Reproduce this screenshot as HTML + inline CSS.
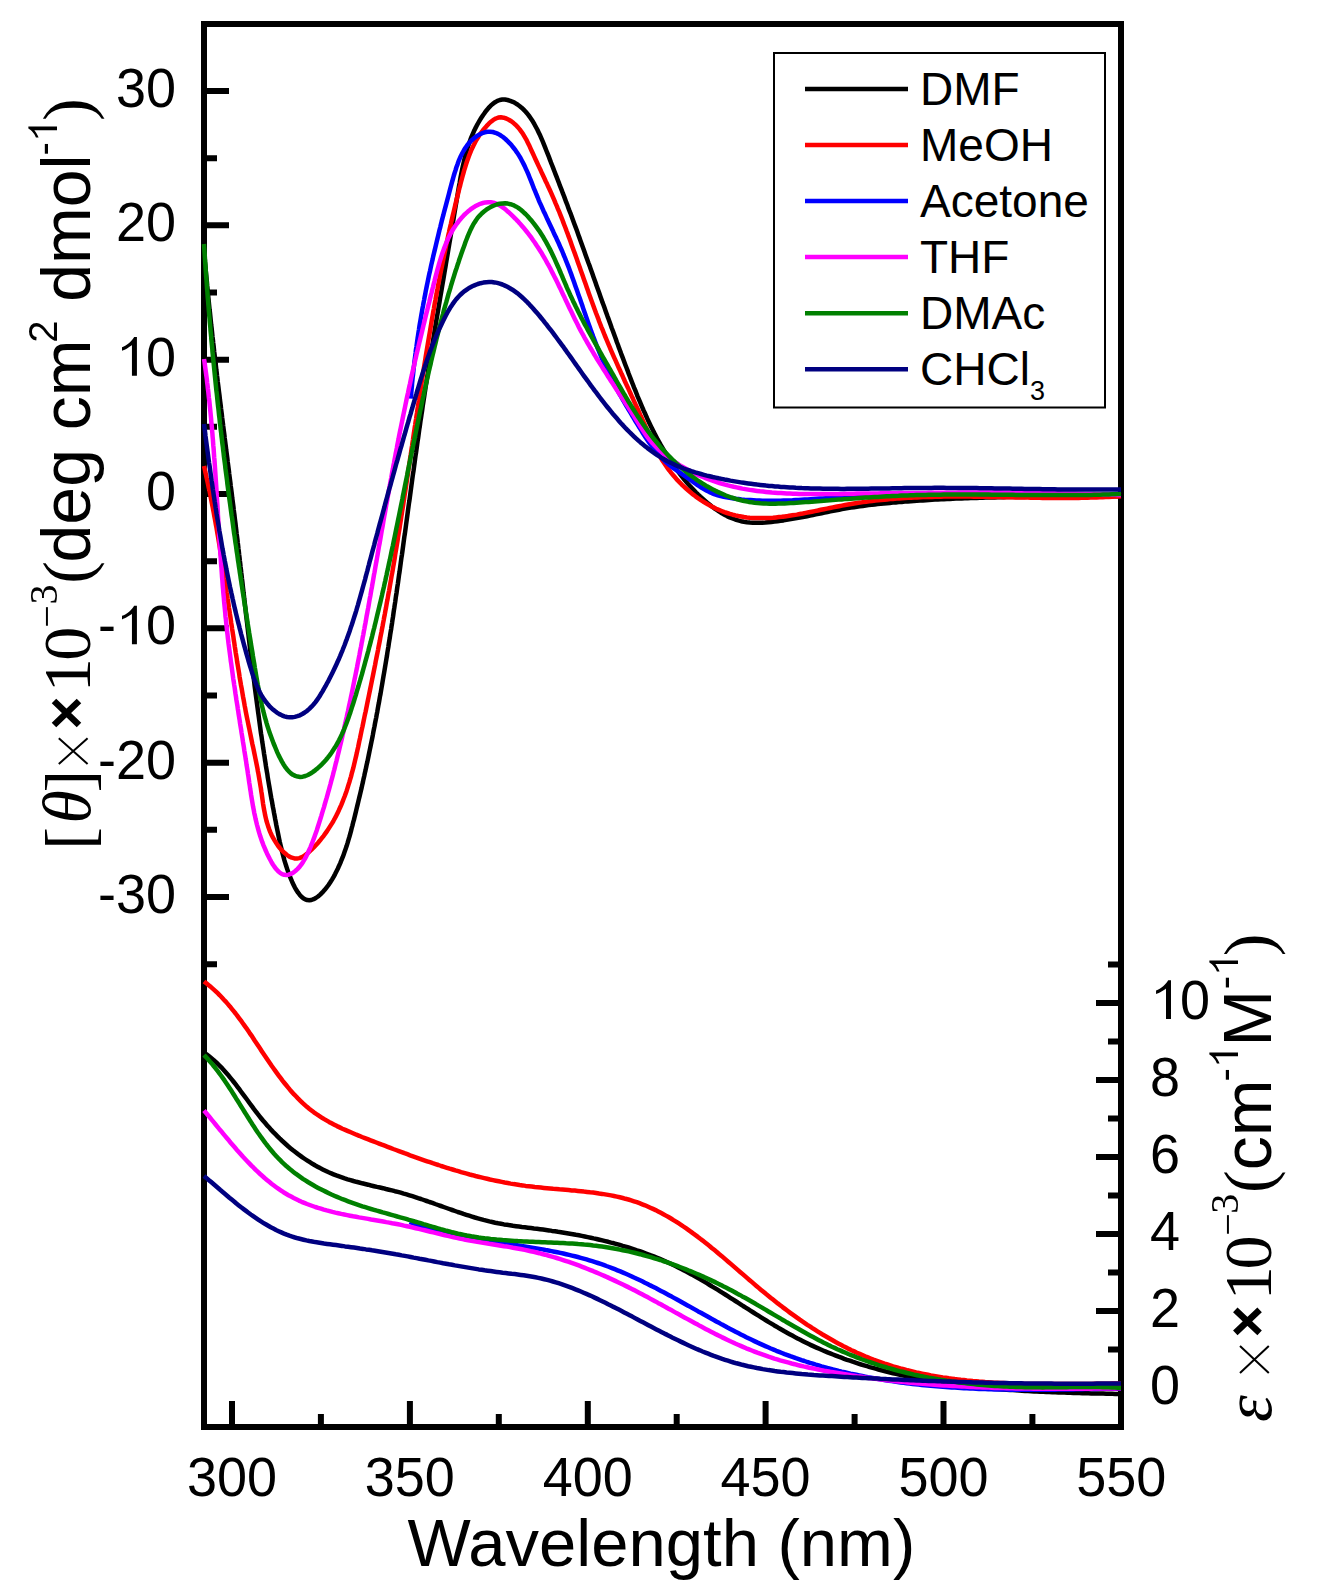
<!DOCTYPE html><html><head><meta charset="utf-8"><style>html,body{margin:0;padding:0;background:#fff;}svg{display:block;}</style></head><body>
<svg width="1318" height="1596" viewBox="0 0 1318 1596" font-family='"Liberation Sans", sans-serif'>
<rect x="0" y="0" width="1318" height="1596" fill="#fff"/>
<rect x="204" y="24" width="917" height="1403" fill="none" stroke="#000" stroke-width="6"/>
<path d="M232.0 1401 V1427 M320.9 1414 V1427 M409.9 1401 V1427 M498.8 1414 V1427 M587.8 1401 V1427 M676.7 1414 V1427 M765.6 1401 V1427 M854.6 1414 V1427 M943.5 1401 V1427 M1032.4 1414 V1427 M204 964.2 H217 M204 897.0 H229 M204 829.8 H217 M204 762.7 H229 M204 695.5 H217 M204 628.3 H229 M204 561.2 H217 M204 494.0 H229 M204 426.8 H217 M204 359.7 H229 M204 292.5 H217 M204 225.3 H229 M204 158.2 H217 M204 91.0 H229 M1121 1388.0 H1096 M1121 1349.5 H1108 M1121 1311.0 H1096 M1121 1272.5 H1108 M1121 1234.0 H1096 M1121 1195.5 H1108 M1121 1157.0 H1096 M1121 1118.5 H1108 M1121 1080.0 H1096 M1121 1041.5 H1108 M1121 1003.0 H1096 M1121 964.5 H1108" stroke="#000" stroke-width="6" fill="none"/>
<g font-size="54" fill="#000">
<g transform="translate(186.95 1496.00) scale(1 1.025)"><text x="0" y="0">300</text></g>
<g transform="translate(364.83 1496.00) scale(1 1.025)"><text x="0" y="0">350</text></g>
<g transform="translate(542.70 1496.00) scale(1 1.025)"><text x="0" y="0">400</text></g>
<g transform="translate(720.58 1496.00) scale(1 1.025)"><text x="0" y="0">450</text></g>
<g transform="translate(898.45 1496.00) scale(1 1.025)"><text x="0" y="0">500</text></g>
<g transform="translate(1076.33 1496.00) scale(1 1.025)"><text x="0" y="0">550</text></g>
<g transform="translate(97.95 912.99) scale(1 1.025)"><text x="0" y="0">-30</text></g>
<g transform="translate(97.95 778.66) scale(1 1.025)"><text x="0" y="0">-20</text></g>
<g transform="translate(97.95 644.33) scale(1 1.025)"><text x="0" y="0">- 0</text></g><path d="M131.94 644.33L136.92 644.33L136.92 605.68L134.13 605.68C133.07 607.68 131.23 609.79 129.12 611.63C127.01 613.48 124.37 615.06 122.00 615.85L122.00 619.44C123.58 618.89 125.69 617.83 127.80 616.59C129.65 615.51 131.10 614.54 131.94 613.74Z" fill="#000"/>
<g transform="translate(145.97 510.00) scale(1 1.025)"><text x="0" y="0">0</text></g>
<g transform="translate(115.94 375.67) scale(1 1.025)"><text x="0" y="0"> 0</text></g><path d="M131.94 375.67L136.92 375.67L136.92 337.02L134.13 337.02C133.07 339.02 131.23 341.13 129.12 342.97C127.01 344.82 124.37 346.40 122.00 347.19L122.00 350.78C123.58 350.23 125.69 349.17 127.80 347.93C129.65 346.85 131.10 345.88 131.94 345.08Z" fill="#000"/>
<g transform="translate(115.94 241.34) scale(1 1.025)"><text x="0" y="0">20</text></g>
<g transform="translate(115.94 107.01) scale(1 1.025)"><text x="0" y="0">30</text></g>
<g transform="translate(1150.00 1404.00) scale(1 1.025)"><text x="0" y="0">0</text></g>
<g transform="translate(1150.00 1327.00) scale(1 1.025)"><text x="0" y="0">2</text></g>
<g transform="translate(1150.00 1250.00) scale(1 1.025)"><text x="0" y="0">4</text></g>
<g transform="translate(1150.00 1173.00) scale(1 1.025)"><text x="0" y="0">6</text></g>
<g transform="translate(1150.00 1096.00) scale(1 1.025)"><text x="0" y="0">8</text></g>
<g transform="translate(1150.00 1019.00) scale(1 1.025)"><text x="0" y="0"> 0</text></g><path d="M1166.00 1019.00L1170.99 1019.00L1170.99 980.35L1168.19 980.35C1167.14 982.35 1165.29 984.46 1163.18 986.30C1161.07 988.15 1158.44 989.73 1156.06 990.52L1156.06 994.11C1157.65 993.56 1159.76 992.50 1161.87 991.26C1163.71 990.18 1165.16 989.21 1166.00 988.41Z" fill="#000"/>
</g>
<text x="407.6" y="1566" font-size="67">Wavelength (nm)</text>
<rect x="774" y="53" width="331" height="354.5" fill="none" stroke="#000" stroke-width="2"/>
<path d="M805 88.9 H908" stroke="#000000" stroke-width="4.5"/>
<text x="920" y="104.6" font-size="46">DMF</text>
<path d="M805 145.0 H908" stroke="#ff0000" stroke-width="4.5"/>
<text x="920" y="160.7" font-size="46">MeOH</text>
<path d="M805 201.0 H908" stroke="#0000ff" stroke-width="4.5"/>
<text x="920" y="216.7" font-size="46">Acetone</text>
<path d="M805 257.1 H908" stroke="#ff00ff" stroke-width="4.5"/>
<text x="920" y="272.8" font-size="46">THF</text>
<path d="M805 313.2 H908" stroke="#008000" stroke-width="4.5"/>
<text x="920" y="328.9" font-size="46">DMAc</text>
<path d="M805 369.3 H908" stroke="#000080" stroke-width="4.5"/>
<text x="920" y="385.0" font-size="46">CHCl<tspan font-size="27" dy="15">3</tspan></text>
<path d="M204.0 250.0L204.3 253.0L204.5 256.0L204.8 259.0L205.0 262.0L205.3 265.0L205.6 268.0L205.8 271.0L206.1 274.0L206.4 277.0L206.7 280.0L207.0 283.0L207.2 286.0L207.5 289.0L207.8 292.0L208.1 295.0L208.4 298.0L208.7 301.0L209.0 303.9L209.3 306.9L209.6 309.9L210.0 312.9L210.3 315.9L210.6 318.9L210.9 321.9L211.2 324.9L211.6 327.8L211.9 330.8L212.2 333.8L212.5 336.8L212.9 339.8L213.2 342.8L213.6 345.7L213.9 348.7L214.2 351.7L214.6 354.7L214.9 357.7L215.3 360.6L215.6 363.6L216.0 366.6L216.3 369.6L216.7 372.6L217.0 375.5L217.4 378.5L217.7 381.5L218.1 384.5L218.5 387.5L218.8 390.4L219.2 393.4L219.6 396.4L219.9 399.4L220.3 402.3L220.7 405.3L221.0 408.3L221.4 411.3L221.8 414.2L222.1 417.2L222.5 420.2L222.9 423.2L223.2 426.1L223.6 429.1L224.0 432.1L224.4 435.1L224.7 438.0L225.1 441.0L225.5 444.0L225.9 447.0L226.2 449.9L226.6 452.9L227.0 455.9L227.4 458.9L227.7 461.8L228.1 464.8L228.5 467.8L228.9 470.8L229.2 473.7L229.6 476.7L230.0 479.7L230.4 482.7L230.7 485.7L231.1 488.6L231.5 491.6L231.9 494.6L232.2 497.6L232.6 500.5L233.0 503.5L233.4 506.5L233.7 509.5L234.1 512.5L234.5 515.4L234.8 518.4L235.2 521.4L235.6 524.4L235.9 527.4L236.3 530.4L236.6 533.3L237.0 536.3L237.4 539.3L237.7 542.3L238.1 545.3L238.4 548.3L238.8 551.3L239.1 554.2L239.5 557.2L239.8 560.2L240.2 563.2L240.5 566.2L240.9 569.2L241.2 572.2L241.6 575.2L241.9 578.2L242.3 581.2L242.6 584.1L242.9 587.1L243.3 590.1L243.6 593.1L244.0 596.1L244.3 599.1L244.7 602.1L245.0 605.1L245.4 608.1L245.7 611.1L246.0 614.1L246.4 617.1L246.7 620.0L247.1 623.0L247.4 626.0L247.8 629.0L248.1 632.0L248.5 635.0L248.8 638.0L249.2 641.0L249.5 644.0L249.9 647.0L250.2 650.0L250.6 652.9L251.0 655.9L251.3 658.9L251.7 661.9L252.1 664.9L252.4 667.9L252.8 670.9L253.2 673.8L253.5 676.8L253.9 679.8L254.3 682.8L254.6 685.8L255.0 688.8L255.4 691.7L255.8 694.7L256.2 697.7L256.6 700.7L257.0 703.6L257.4 706.6L257.8 709.6L258.2 712.6L258.6 715.5L259.0 718.5L259.4 721.5L259.8 724.5L260.2 727.4L260.6 730.4L261.0 733.4L261.5 736.3L261.9 739.3L262.3 742.2L262.8 745.2L263.2 748.2L263.7 751.1L264.1 754.1L264.6 757.0L265.0 760.0L265.5 762.9L265.9 765.9L266.4 768.8L266.9 771.8L267.4 774.7L267.8 777.7L268.3 780.6L268.8 783.6L269.3 786.5L269.8 789.4L270.3 792.4L270.8 795.3L271.3 798.2L271.9 801.2L272.4 804.1L272.9 807.0L273.5 809.9L274.0 812.9L274.6 815.8L275.1 818.7L275.7 821.6L276.2 824.5L276.8 827.5L277.4 830.4L278.0 833.3L278.6 836.2L279.2 839.1L279.8 842.0L280.5 845.0L281.2 847.9L281.9 850.9L282.7 853.8L283.5 856.8L284.3 859.9L285.2 862.9L286.2 866.0L287.2 869.1L288.3 872.3L289.5 875.4L290.8 878.6L292.1 881.7L293.5 884.7L294.9 887.6L296.5 890.2L298.1 892.7L299.8 894.9L301.5 896.8L303.3 898.3L305.2 899.4L307.2 900.1L309.3 900.3L311.4 900.0L313.6 899.2L315.8 898.0L318.0 896.5L320.2 894.6L322.4 892.4L324.5 890.1L326.5 887.6L328.5 885.0L330.3 882.3L332.0 879.6L333.6 876.9L335.1 874.1L336.5 871.3L337.9 868.5L339.1 865.7L340.4 862.9L341.5 860.0L342.7 857.2L343.7 854.4L344.7 851.5L345.7 848.7L346.7 845.8L347.6 842.9L348.4 840.1L349.3 837.2L350.1 834.3L350.9 831.4L351.6 828.5L352.4 825.6L353.1 822.7L353.9 819.9L354.6 817.0L355.3 814.1L356.0 811.2L356.7 808.3L357.4 805.4L358.1 802.4L358.8 799.5L359.5 796.6L360.2 793.7L360.9 790.8L361.6 787.9L362.2 785.0L362.9 782.1L363.5 779.1L364.2 776.2L364.8 773.3L365.5 770.4L366.1 767.5L366.7 764.5L367.4 761.6L368.0 758.7L368.6 755.8L369.2 752.8L369.8 749.9L370.4 747.0L371.0 744.0L371.6 741.1L372.2 738.2L372.8 735.2L373.3 732.3L373.9 729.3L374.5 726.4L375.0 723.5L375.6 720.5L376.2 717.6L376.7 714.6L377.3 711.7L377.8 708.7L378.3 705.8L378.9 702.8L379.4 699.9L379.9 696.9L380.5 694.0L381.0 691.0L381.5 688.0L382.0 685.1L382.5 682.1L383.0 679.2L383.5 676.2L384.0 673.3L384.5 670.3L385.0 667.3L385.5 664.4L386.0 661.4L386.5 658.4L387.0 655.5L387.4 652.5L387.9 649.5L388.4 646.6L388.8 643.6L389.3 640.6L389.8 637.7L390.2 634.7L390.7 631.7L391.2 628.8L391.6 625.8L392.1 622.8L392.5 619.8L393.0 616.9L393.4 613.9L393.8 610.9L394.3 607.9L394.7 605.0L395.2 602.0L395.6 599.0L396.0 596.0L396.5 593.1L396.9 590.1L397.3 587.1L397.8 584.1L398.2 581.2L398.6 578.2L399.0 575.2L399.5 572.2L399.9 569.2L400.3 566.3L400.7 563.3L401.1 560.3L401.5 557.3L402.0 554.3L402.4 551.4L402.8 548.4L403.2 545.4L403.6 542.4L404.0 539.4L404.4 536.4L404.9 533.5L405.3 530.5L405.7 527.5L406.1 524.5L406.5 521.5L406.9 518.6L407.3 515.6L407.7 512.6L408.1 509.6L408.5 506.6L408.9 503.7L409.4 500.7L409.8 497.7L410.2 494.7L410.6 491.7L411.0 488.8L411.4 485.8L411.8 482.8L412.2 479.8L412.6 476.8L413.0 473.9L413.5 470.9L413.9 467.9L414.3 464.9L414.7 461.9L415.1 459.0L415.5 456.0L416.0 453.0L416.4 450.0L416.8 447.1L417.2 444.1L417.6 441.1L418.1 438.1L418.5 435.2L418.9 432.2L419.3 429.2L419.8 426.3L420.2 423.3L420.6 420.3L421.1 417.4L421.5 414.4L422.0 411.4L422.4 408.4L422.8 405.5L423.3 402.5L423.7 399.6L424.2 396.6L424.6 393.6L425.1 390.7L425.5 387.7L426.0 384.7L426.5 381.8L426.9 378.8L427.4 375.9L427.9 372.9L428.3 369.9L428.8 367.0L429.3 364.0L429.7 361.1L430.2 358.1L430.7 355.2L431.2 352.2L431.6 349.2L432.1 346.3L432.6 343.3L433.1 340.4L433.6 337.4L434.1 334.5L434.5 331.5L435.0 328.6L435.5 325.6L436.0 322.6L436.5 319.7L437.0 316.7L437.5 313.8L438.0 310.8L438.5 307.9L439.0 304.9L439.5 302.0L440.0 299.0L440.5 296.0L441.0 293.1L441.5 290.1L442.0 287.2L442.5 284.2L443.0 281.3L443.5 278.3L444.0 275.3L444.5 272.4L445.0 269.4L445.5 266.5L446.0 263.5L446.5 260.5L447.0 257.6L447.5 254.6L448.0 251.6L448.5 248.7L449.0 245.7L449.5 242.7L450.0 239.8L450.5 236.8L451.0 233.8L451.5 230.9L452.0 227.9L452.5 224.9L453.0 221.9L453.5 219.0L454.0 216.0L454.5 213.0L455.0 210.0L455.5 207.0L456.0 204.1L456.5 201.1L457.0 198.1L457.5 195.1L458.0 192.1L458.5 189.1L459.0 186.1L459.6 183.2L460.1 180.2L460.6 177.2L461.2 174.2L461.8 171.3L462.4 168.3L463.0 165.4L463.7 162.4L464.4 159.5L465.1 156.6L465.9 153.7L466.7 150.8L467.6 147.9L468.5 145.1L469.5 142.2L470.5 139.4L471.6 136.6L472.8 133.9L474.0 131.1L475.3 128.4L476.7 125.7L478.2 123.0L479.7 120.4L481.3 117.8L483.0 115.2L484.8 112.7L486.7 110.2L488.6 107.9L490.7 105.7L492.8 103.8L495.1 102.2L497.4 100.9L499.8 100.0L502.3 99.5L504.9 99.5L507.6 100.0L510.2 100.8L512.8 101.8L515.2 103.1L517.5 104.5L519.8 106.2L521.9 107.9L523.9 109.9L525.9 112.0L527.7 114.2L529.5 116.5L531.2 119.0L532.9 121.6L534.4 124.2L535.9 127.0L537.4 129.8L538.8 132.7L540.2 135.6L541.5 138.6L542.8 141.6L544.0 144.6L545.2 147.6L546.4 150.7L547.6 153.7L548.8 156.7L549.9 159.6L551.0 162.6L552.2 165.5L553.3 168.4L554.4 171.3L555.5 174.1L556.6 176.9L557.7 179.8L558.8 182.6L559.8 185.4L560.9 188.1L562.0 190.9L563.0 193.7L564.1 196.4L565.1 199.1L566.1 201.9L567.2 204.6L568.2 207.4L569.2 210.1L570.3 212.8L571.3 215.6L572.3 218.3L573.3 221.1L574.3 223.8L575.4 226.6L576.4 229.3L577.4 232.1L578.4 234.9L579.4 237.6L580.4 240.4L581.4 243.2L582.4 246.0L583.4 248.8L584.4 251.6L585.4 254.4L586.4 257.2L587.4 260.0L588.4 262.8L589.5 265.6L590.5 268.4L591.5 271.2L592.5 274.1L593.5 276.9L594.5 279.7L595.5 282.5L596.5 285.4L597.5 288.2L598.5 291.0L599.5 293.8L600.5 296.7L601.5 299.5L602.5 302.4L603.6 305.2L604.6 308.0L605.6 310.9L606.6 313.7L607.6 316.6L608.7 319.4L609.7 322.3L610.7 325.1L611.7 328.0L612.8 330.8L613.8 333.6L614.9 336.5L615.9 339.3L616.9 342.2L618.0 345.0L619.0 347.9L620.1 350.7L621.1 353.6L622.2 356.4L623.3 359.3L624.3 362.1L625.4 365.0L626.5 367.8L627.6 370.6L628.6 373.5L629.7 376.3L630.8 379.1L631.9 382.0L633.0 384.8L634.1 387.6L635.3 390.4L636.4 393.3L637.5 396.1L638.7 398.9L639.9 401.7L641.0 404.4L642.2 407.2L643.4 410.0L644.7 412.7L645.9 415.5L647.1 418.2L648.4 420.9L649.7 423.7L651.0 426.4L652.3 429.0L653.7 431.7L655.0 434.4L656.4 437.0L657.8 439.7L659.3 442.3L660.7 444.9L662.2 447.4L663.7 450.0L665.3 452.6L666.8 455.1L668.4 457.6L670.0 460.1L671.7 462.5L673.4 465.0L675.1 467.4L676.8 469.8L678.6 472.2L680.4 474.5L682.2 476.9L684.1 479.2L686.0 481.5L687.9 483.7L689.9 485.9L691.9 488.1L694.0 490.3L696.1 492.5L698.2 494.6L700.4 496.7L702.6 498.7L704.9 500.7L707.2 502.7L709.5 504.6L711.9 506.5L714.3 508.3L716.8 510.0L719.3 511.7L721.9 513.3L724.5 514.7L727.1 516.1L729.8 517.4L732.6 518.5L735.3 519.5L738.2 520.4L741.0 521.2L743.9 521.8L746.9 522.3L749.9 522.6L752.9 522.8L756.0 522.8L759.1 522.8L762.2 522.7L765.3 522.5L768.3 522.2L771.4 521.9L774.5 521.6L777.5 521.2L780.5 520.8L783.5 520.4L786.5 519.9L789.5 519.4L792.4 518.9L795.4 518.4L798.3 517.9L801.3 517.3L804.2 516.7L807.1 516.2L810.0 515.6L812.9 515.0L815.8 514.4L818.7 513.8L821.6 513.2L824.5 512.6L827.5 512.0L830.4 511.4L833.3 510.8L836.2 510.2L839.1 509.7L842.0 509.1L845.0 508.6L847.9 508.1L850.9 507.6L853.8 507.2L856.8 506.7L859.8 506.3L862.8 505.9L865.7 505.5L868.7 505.1L871.7 504.8L874.7 504.4L877.7 504.1L880.7 503.8L883.7 503.5L886.8 503.2L889.8 502.9L892.8 502.6L895.8 502.4L898.8 502.1L901.8 501.9L904.8 501.6L907.8 501.4L910.8 501.2L913.8 501.0L916.8 500.8L919.9 500.6L922.9 500.4L925.9 500.2L928.9 500.0L931.9 499.8L934.9 499.6L937.9 499.5L940.9 499.3L943.9 499.2L946.9 499.0L949.9 498.9L952.9 498.8L955.9 498.6L958.9 498.5L961.8 498.4L964.8 498.3L967.8 498.2L970.8 498.1L973.8 498.0L976.8 497.9L979.8 497.8L982.8 497.7L985.8 497.6L988.8 497.5L991.8 497.5L994.8 497.4L997.8 497.3L1000.8 497.3L1003.8 497.2L1006.8 497.1L1009.8 497.1L1012.8 497.0L1015.8 497.0L1018.8 496.9L1021.8 496.9L1024.8 496.9L1027.8 496.8L1030.8 496.8L1033.8 496.7L1036.9 496.7L1039.9 496.7L1042.9 496.7L1045.9 496.6L1048.9 496.6L1051.9 496.6L1054.9 496.5L1057.9 496.5L1060.9 496.5L1063.9 496.5L1066.9 496.5L1069.9 496.4L1073.0 496.4L1076.0 496.4L1079.0 496.4L1082.0 496.4L1085.0 496.4L1088.0 496.4L1091.0 496.3L1094.0 496.3L1097.0 496.3L1100.0 496.3L1103.0 496.3L1106.0 496.3L1109.0 496.3L1112.0 496.2L1115.0 496.2L1118.0 496.2L1121.0 496.2" fill="none" stroke="#000000" stroke-width="4.5" stroke-linejoin="round"/>
<path d="M204.0 1052.5L206.5 1054.3L208.8 1056.1L211.2 1058.0L213.5 1059.9L215.7 1061.9L217.9 1064.0L220.0 1066.1L222.1 1068.2L224.1 1070.4L226.1 1072.7L228.1 1074.9L230.0 1077.3L231.9 1079.6L233.8 1082.0L235.7 1084.4L237.5 1086.8L239.3 1089.2L241.1 1091.7L242.9 1094.1L244.8 1096.6L246.6 1099.0L248.4 1101.5L250.2 1104.0L252.0 1106.4L253.8 1108.9L255.7 1111.3L257.5 1113.7L259.4 1116.1L261.3 1118.5L263.2 1120.8L265.2 1123.1L267.2 1125.4L269.2 1127.6L271.2 1129.9L273.3 1132.1L275.4 1134.2L277.5 1136.3L279.6 1138.4L281.8 1140.5L284.0 1142.5L286.2 1144.5L288.4 1146.5L290.7 1148.4L293.0 1150.3L295.3 1152.1L297.7 1153.9L300.1 1155.6L302.5 1157.4L304.9 1159.0L307.4 1160.6L309.9 1162.2L312.4 1163.8L314.9 1165.3L317.5 1166.7L320.1 1168.1L322.7 1169.4L325.4 1170.7L328.1 1172.0L330.8 1173.2L333.5 1174.3L336.3 1175.4L339.1 1176.4L341.9 1177.4L344.7 1178.4L347.6 1179.3L350.5 1180.1L353.4 1181.0L356.3 1181.8L359.2 1182.5L362.2 1183.3L365.1 1184.0L368.1 1184.7L371.1 1185.5L374.0 1186.2L377.0 1186.9L380.0 1187.5L383.0 1188.2L386.0 1189.0L388.9 1189.7L391.9 1190.4L394.9 1191.2L397.8 1191.9L400.7 1192.7L403.7 1193.6L406.6 1194.4L409.5 1195.3L412.4 1196.2L415.2 1197.1L418.1 1198.1L421.0 1199.0L423.8 1200.0L426.7 1201.0L429.5 1202.0L432.4 1202.9L435.2 1204.0L438.0 1205.0L440.9 1206.0L443.7 1207.0L446.5 1208.0L449.3 1209.0L452.2 1210.0L455.0 1211.0L457.8 1212.0L460.7 1212.9L463.5 1213.9L466.3 1214.8L469.2 1215.7L472.0 1216.6L474.9 1217.5L477.8 1218.3L480.6 1219.1L483.5 1219.9L486.4 1220.6L489.3 1221.4L492.2 1222.0L495.2 1222.7L498.1 1223.3L501.0 1223.8L504.0 1224.4L507.0 1224.8L510.0 1225.3L512.9 1225.8L515.9 1226.2L518.9 1226.6L521.9 1227.0L524.9 1227.3L527.9 1227.7L531.0 1228.1L534.0 1228.5L537.0 1228.8L540.0 1229.2L543.0 1229.6L546.0 1230.0L549.0 1230.4L552.0 1230.9L555.0 1231.3L558.0 1231.8L561.0 1232.2L564.0 1232.7L567.0 1233.2L569.9 1233.7L572.9 1234.2L575.9 1234.8L578.9 1235.3L581.8 1235.9L584.8 1236.5L587.7 1237.1L590.7 1237.7L593.6 1238.4L596.5 1239.0L599.5 1239.7L602.4 1240.4L605.3 1241.1L608.2 1241.8L611.1 1242.6L614.0 1243.3L616.9 1244.1L619.8 1244.9L622.7 1245.8L625.5 1246.6L628.4 1247.5L631.2 1248.4L634.1 1249.3L636.9 1250.3L639.7 1251.2L642.5 1252.2L645.4 1253.3L648.1 1254.3L650.9 1255.4L653.7 1256.4L656.5 1257.6L659.2 1258.7L662.0 1259.9L664.7 1261.1L667.4 1262.3L670.2 1263.5L672.9 1264.8L675.5 1266.1L678.2 1267.4L680.9 1268.8L683.6 1270.2L686.2 1271.6L688.9 1273.0L691.5 1274.4L694.1 1275.9L696.7 1277.4L699.4 1278.9L702.0 1280.4L704.6 1281.9L707.2 1283.4L709.7 1285.0L712.3 1286.6L714.9 1288.1L717.5 1289.7L720.1 1291.3L722.6 1292.9L725.2 1294.5L727.8 1296.2L730.3 1297.8L732.9 1299.4L735.4 1301.0L738.0 1302.7L740.6 1304.3L743.1 1306.0L745.7 1307.6L748.2 1309.2L750.8 1310.8L753.4 1312.5L755.9 1314.1L758.5 1315.7L761.1 1317.3L763.6 1318.9L766.2 1320.5L768.8 1322.1L771.4 1323.6L774.0 1325.2L776.6 1326.7L779.2 1328.3L781.8 1329.8L784.4 1331.3L787.0 1332.7L789.7 1334.2L792.3 1335.6L795.0 1337.1L797.6 1338.5L800.3 1339.8L803.0 1341.2L805.6 1342.5L808.3 1343.8L811.0 1345.1L813.8 1346.4L816.5 1347.6L819.2 1348.8L822.0 1350.0L824.7 1351.2L827.5 1352.3L830.2 1353.4L833.0 1354.5L835.8 1355.6L838.6 1356.7L841.4 1357.7L844.2 1358.8L847.0 1359.8L849.9 1360.7L852.7 1361.7L855.5 1362.6L858.4 1363.6L861.2 1364.5L864.1 1365.3L867.0 1366.2L869.8 1367.1L872.7 1367.9L875.6 1368.7L878.5 1369.5L881.4 1370.3L884.3 1371.0L887.2 1371.8L890.1 1372.5L893.0 1373.2L896.0 1373.9L898.9 1374.6L901.8 1375.2L904.8 1375.9L907.7 1376.5L910.7 1377.1L913.6 1377.7L916.6 1378.3L919.6 1378.8L922.5 1379.4L925.5 1379.9L928.5 1380.4L931.5 1380.9L934.4 1381.4L937.4 1381.9L940.4 1382.4L943.4 1382.8L946.4 1383.3L949.4 1383.7L952.4 1384.1L955.4 1384.5L958.4 1384.9L961.5 1385.3L964.5 1385.7L967.5 1386.0L970.5 1386.4L973.5 1386.7L976.5 1387.0L979.6 1387.3L982.6 1387.6L985.6 1387.9L988.6 1388.2L991.7 1388.5L994.7 1388.7L997.7 1389.0L1000.8 1389.2L1003.8 1389.5L1006.8 1389.7L1009.9 1389.9L1012.9 1390.1L1015.9 1390.3L1019.0 1390.5L1022.0 1390.7L1025.0 1390.9L1028.0 1391.0L1031.1 1391.2L1034.1 1391.4L1037.1 1391.5L1040.2 1391.7L1043.2 1391.8L1046.2 1391.9L1049.2 1392.1L1052.3 1392.2L1055.3 1392.3L1058.3 1392.4L1061.3 1392.5L1064.3 1392.6L1067.3 1392.7L1070.3 1392.8L1073.3 1392.9L1076.4 1393.0L1079.4 1393.1L1082.3 1393.2L1085.3 1393.2L1088.3 1393.3L1091.3 1393.4L1094.3 1393.4L1097.3 1393.5L1100.3 1393.6L1103.2 1393.6L1106.2 1393.7L1109.2 1393.8L1112.1 1393.8L1115.1 1393.9L1118.0 1393.9L1121.0 1394.0" fill="none" stroke="#000000" stroke-width="4.5" stroke-linejoin="round"/>
<path d="M204.0 466.0L204.7 468.9L205.3 471.9L206.0 474.8L206.6 477.7L207.3 480.7L207.9 483.6L208.5 486.6L209.2 489.5L209.8 492.4L210.4 495.4L210.9 498.3L211.5 501.3L212.1 504.2L212.7 507.2L213.2 510.1L213.8 513.1L214.3 516.0L214.9 519.0L215.4 521.9L215.9 524.9L216.5 527.9L217.0 530.8L217.5 533.8L218.0 536.7L218.5 539.7L219.0 542.7L219.5 545.6L220.0 548.6L220.4 551.6L220.9 554.5L221.4 557.5L221.9 560.5L222.3 563.4L222.8 566.4L223.2 569.4L223.7 572.3L224.2 575.3L224.6 578.3L225.1 581.3L225.5 584.2L226.0 587.2L226.4 590.2L226.8 593.1L227.3 596.1L227.7 599.1L228.2 602.1L228.6 605.0L229.0 608.0L229.5 611.0L229.9 613.9L230.4 616.9L230.8 619.9L231.2 622.9L231.7 625.8L232.1 628.8L232.6 631.8L233.0 634.7L233.5 637.7L233.9 640.7L234.4 643.7L234.8 646.6L235.3 649.6L235.7 652.6L236.2 655.5L236.7 658.5L237.1 661.5L237.6 664.4L238.1 667.4L238.6 670.4L239.1 673.3L239.5 676.3L240.0 679.3L240.5 682.2L241.0 685.2L241.6 688.1L242.1 691.1L242.6 694.1L243.1 697.0L243.7 700.0L244.2 702.9L244.7 705.9L245.3 708.8L245.8 711.8L246.4 714.7L247.0 717.7L247.6 720.6L248.2 723.6L248.8 726.5L249.4 729.4L250.0 732.4L250.6 735.3L251.2 738.3L251.8 741.2L252.4 744.2L253.1 747.1L253.7 750.0L254.3 753.0L254.9 755.9L255.5 758.9L256.1 761.8L256.7 764.8L257.3 767.7L257.8 770.7L258.4 773.6L258.9 776.6L259.4 779.5L259.9 782.5L260.4 785.5L260.9 788.4L261.3 791.4L261.8 794.4L262.2 797.4L262.6 800.3L263.0 803.3L263.5 806.3L264.0 809.3L264.6 812.2L265.1 815.1L265.8 818.1L266.5 821.0L267.4 823.9L268.3 826.7L269.3 829.6L270.4 832.4L271.7 835.2L273.1 837.9L274.7 840.6L276.4 843.3L278.2 846.0L280.2 848.5L282.4 850.9L284.7 853.1L287.0 855.0L289.4 856.6L291.9 857.7L294.4 858.4L296.9 858.5L299.4 858.1L301.9 857.1L304.4 855.7L306.8 853.9L309.2 851.8L311.5 849.7L313.7 847.5L315.8 845.2L317.9 842.9L319.9 840.6L321.8 838.2L323.7 835.8L325.4 833.4L327.2 830.9L328.8 828.4L330.4 825.9L332.0 823.4L333.5 820.8L334.9 818.2L336.3 815.6L337.6 812.9L338.9 810.2L340.1 807.5L341.3 804.8L342.4 802.1L343.5 799.3L344.6 796.5L345.6 793.7L346.6 790.9L347.5 788.1L348.4 785.2L349.3 782.4L350.1 779.5L351.0 776.6L351.7 773.7L352.5 770.8L353.3 767.9L354.0 764.9L354.7 762.0L355.4 759.0L356.1 756.1L356.8 753.1L357.4 750.2L358.1 747.2L358.7 744.2L359.3 741.3L360.0 738.3L360.6 735.3L361.2 732.4L361.8 729.4L362.5 726.5L363.1 723.5L363.7 720.5L364.3 717.6L364.9 714.6L365.6 711.7L366.2 708.7L366.8 705.7L367.4 702.8L368.0 699.8L368.6 696.9L369.2 693.9L369.8 691.0L370.4 688.0L371.0 685.1L371.6 682.1L372.2 679.1L372.8 676.2L373.4 673.2L374.0 670.3L374.6 667.3L375.2 664.4L375.7 661.4L376.3 658.5L376.9 655.5L377.5 652.6L378.1 649.6L378.6 646.7L379.2 643.7L379.8 640.8L380.3 637.8L380.9 634.9L381.5 631.9L382.0 629.0L382.6 626.0L383.1 623.1L383.7 620.1L384.2 617.2L384.8 614.2L385.3 611.3L385.9 608.3L386.4 605.4L386.9 602.4L387.5 599.5L388.0 596.5L388.5 593.6L389.1 590.6L389.6 587.7L390.1 584.7L390.6 581.8L391.1 578.8L391.6 575.9L392.2 572.9L392.7 570.0L393.2 567.0L393.7 564.1L394.2 561.1L394.7 558.2L395.1 555.2L395.6 552.2L396.1 549.3L396.6 546.3L397.1 543.4L397.6 540.4L398.0 537.5L398.5 534.5L399.0 531.5L399.5 528.6L399.9 525.6L400.4 522.7L400.9 519.7L401.3 516.7L401.8 513.8L402.2 510.8L402.7 507.8L403.2 504.9L403.6 501.9L404.1 498.9L404.5 496.0L405.0 493.0L405.4 490.1L405.9 487.1L406.3 484.1L406.8 481.2L407.2 478.2L407.7 475.2L408.1 472.3L408.5 469.3L409.0 466.3L409.4 463.4L409.9 460.4L410.3 457.4L410.8 454.4L411.2 451.5L411.6 448.5L412.1 445.5L412.5 442.6L413.0 439.6L413.4 436.6L413.8 433.7L414.3 430.7L414.7 427.7L415.2 424.8L415.6 421.8L416.1 418.8L416.5 415.9L417.0 412.9L417.4 409.9L417.9 406.9L418.3 404.0L418.8 401.0L419.2 398.0L419.7 395.1L420.1 392.1L420.6 389.1L421.0 386.2L421.5 383.2L422.0 380.2L422.4 377.3L422.9 374.3L423.4 371.3L423.8 368.4L424.3 365.4L424.8 362.4L425.3 359.5L425.7 356.5L426.2 353.5L426.7 350.6L427.2 347.6L427.7 344.6L428.2 341.7L428.7 338.7L429.2 335.7L429.7 332.8L430.2 329.8L430.7 326.8L431.2 323.9L431.7 320.9L432.2 318.0L432.7 315.0L433.2 312.0L433.8 309.1L434.3 306.1L434.8 303.2L435.4 300.2L435.9 297.2L436.5 294.3L437.0 291.3L437.6 288.4L438.1 285.4L438.7 282.4L439.3 279.5L439.8 276.5L440.4 273.6L441.0 270.6L441.6 267.7L442.2 264.7L442.8 261.8L443.4 258.8L444.0 255.9L444.6 252.9L445.2 250.0L445.8 247.0L446.4 244.1L447.1 241.1L447.7 238.2L448.3 235.2L449.0 232.3L449.6 229.3L450.3 226.4L451.0 223.4L451.6 220.5L452.3 217.6L453.0 214.6L453.7 211.7L454.4 208.7L455.1 205.8L455.8 202.9L456.5 199.9L457.2 197.0L458.0 194.1L458.7 191.1L459.4 188.2L460.2 185.3L460.9 182.3L461.7 179.4L462.5 176.5L463.3 173.6L464.1 170.7L465.0 167.8L465.9 164.9L466.8 162.0L467.8 159.2L468.8 156.4L469.9 153.7L471.0 150.9L472.2 148.2L473.5 145.5L474.8 142.9L476.2 140.3L477.8 137.8L479.3 135.3L481.0 132.9L482.8 130.5L484.7 128.2L486.7 125.9L488.8 123.7L491.0 121.7L493.3 119.9L495.8 118.5L498.3 117.6L500.9 117.3L503.6 117.7L506.2 118.5L508.8 119.8L511.3 121.3L513.6 123.1L515.8 125.0L517.8 127.1L519.7 129.4L521.5 131.8L523.2 134.3L524.7 136.9L526.3 139.6L527.7 142.4L529.1 145.2L530.4 148.1L531.7 151.0L533.0 153.8L534.3 156.7L535.6 159.5L536.9 162.3L538.2 165.1L539.5 167.9L540.8 170.6L542.0 173.3L543.3 176.0L544.6 178.8L545.8 181.5L547.1 184.1L548.3 186.8L549.6 189.5L550.8 192.2L552.0 194.9L553.2 197.7L554.4 200.4L555.5 203.1L556.7 205.8L557.8 208.6L559.0 211.3L560.1 214.1L561.2 216.9L562.3 219.6L563.3 222.4L564.4 225.2L565.5 228.0L566.5 230.8L567.6 233.6L568.6 236.4L569.7 239.2L570.7 242.1L571.7 244.9L572.7 247.7L573.7 250.5L574.8 253.4L575.8 256.2L576.8 259.0L577.8 261.9L578.8 264.7L579.8 267.6L580.8 270.4L581.8 273.2L582.8 276.1L583.8 278.9L584.8 281.8L585.8 284.6L586.8 287.5L587.8 290.3L588.8 293.2L589.8 296.0L590.8 298.8L591.9 301.7L592.9 304.5L593.9 307.3L595.0 310.2L596.0 313.0L597.1 315.8L598.2 318.6L599.2 321.5L600.3 324.3L601.4 327.1L602.6 329.9L603.7 332.7L604.8 335.5L606.0 338.3L607.1 341.0L608.3 343.8L609.5 346.6L610.6 349.3L611.8 352.1L613.0 354.9L614.2 357.6L615.5 360.4L616.7 363.1L617.9 365.9L619.1 368.6L620.4 371.3L621.6 374.1L622.9 376.8L624.1 379.5L625.3 382.3L626.6 385.0L627.9 387.7L629.1 390.4L630.4 393.2L631.6 395.9L632.9 398.6L634.1 401.3L635.4 404.1L636.6 406.8L637.9 409.5L639.1 412.2L640.3 414.9L641.6 417.6L642.8 420.4L644.0 423.1L645.3 425.8L646.5 428.5L647.7 431.3L648.9 434.0L650.1 436.7L651.3 439.4L652.6 442.1L653.9 444.8L655.2 447.5L656.5 450.1L657.9 452.8L659.4 455.4L660.9 458.0L662.4 460.6L664.1 463.1L665.8 465.6L667.5 468.1L669.4 470.5L671.2 472.9L673.2 475.3L675.2 477.6L677.2 479.9L679.4 482.1L681.5 484.3L683.7 486.4L686.0 488.5L688.3 490.5L690.7 492.5L693.0 494.4L695.5 496.3L698.0 498.1L700.5 499.8L703.0 501.5L705.6 503.0L708.2 504.6L710.8 506.0L713.5 507.4L716.2 508.7L718.9 509.9L721.6 511.0L724.4 512.1L727.1 513.0L729.9 513.9L732.7 514.7L735.5 515.4L738.3 516.0L741.2 516.5L744.0 517.0L746.9 517.4L749.7 517.7L752.6 517.9L755.5 518.0L758.4 518.1L761.3 518.1L764.2 518.1L767.2 518.0L770.1 517.9L773.0 517.7L776.0 517.4L778.9 517.1L781.9 516.8L784.9 516.4L787.8 516.0L790.8 515.5L793.8 515.1L796.8 514.6L799.8 514.0L802.8 513.5L805.8 512.9L808.8 512.3L811.8 511.7L814.8 511.1L817.8 510.5L820.8 509.8L823.8 509.2L826.9 508.6L829.9 508.0L832.9 507.4L835.9 506.8L838.9 506.2L842.0 505.6L845.0 505.0L848.0 504.5L851.0 504.0L854.0 503.5L857.0 503.0L860.0 502.6L863.0 502.1L866.1 501.7L869.1 501.3L872.1 501.0L875.1 500.6L878.1 500.3L881.1 500.0L884.1 499.7L887.1 499.4L890.1 499.1L893.1 498.9L896.1 498.6L899.1 498.4L902.1 498.2L905.1 498.0L908.0 497.8L911.0 497.7L914.0 497.5L917.0 497.4L920.0 497.2L923.0 497.1L926.0 497.0L929.0 496.9L932.0 496.9L935.0 496.8L938.0 496.7L940.9 496.7L943.9 496.6L946.9 496.6L949.9 496.6L952.9 496.6L955.9 496.6L958.9 496.6L961.9 496.6L964.8 496.6L967.8 496.6L970.8 496.6L973.8 496.7L976.8 496.7L979.8 496.7L982.8 496.8L985.8 496.8L988.7 496.9L991.7 496.9L994.7 497.0L997.7 497.0L1000.7 497.1L1003.7 497.2L1006.7 497.2L1009.7 497.3L1012.7 497.3L1015.6 497.4L1018.6 497.5L1021.6 497.5L1024.6 497.6L1027.6 497.6L1030.6 497.7L1033.6 497.7L1036.6 497.8L1039.6 497.8L1042.6 497.9L1045.6 497.9L1048.6 497.9L1051.6 498.0L1054.6 498.0L1057.6 498.0L1060.6 498.0L1063.6 498.0L1066.6 498.0L1069.6 498.0L1072.7 498.0L1075.7 497.9L1078.7 497.9L1081.7 497.8L1084.7 497.8L1087.7 497.7L1090.7 497.6L1093.8 497.5L1096.8 497.4L1099.8 497.3L1102.8 497.2L1105.9 497.1L1108.9 496.9L1111.9 496.7L1114.9 496.6L1118.0 496.4L1121.0 496.2" fill="none" stroke="#ff0000" stroke-width="4.5" stroke-linejoin="round"/>
<path d="M204.0 981.4L206.4 983.3L208.7 985.2L211.0 987.1L213.3 989.1L215.5 991.1L217.7 993.2L219.8 995.3L221.9 997.5L223.9 999.7L226.0 1001.9L227.9 1004.1L229.9 1006.4L231.8 1008.8L233.7 1011.1L235.6 1013.5L237.4 1015.9L239.2 1018.3L241.0 1020.7L242.8 1023.2L244.5 1025.6L246.3 1028.1L248.0 1030.6L249.7 1033.1L251.5 1035.6L253.2 1038.2L254.8 1040.7L256.5 1043.2L258.2 1045.8L259.9 1048.3L261.6 1050.9L263.3 1053.4L265.0 1055.9L266.7 1058.5L268.4 1061.0L270.1 1063.5L271.8 1066.0L273.6 1068.5L275.3 1070.9L277.1 1073.4L278.9 1075.8L280.7 1078.2L282.5 1080.6L284.4 1083.0L286.3 1085.3L288.2 1087.6L290.1 1089.9L292.1 1092.2L294.1 1094.4L296.2 1096.5L298.2 1098.7L300.4 1100.8L302.5 1102.8L304.7 1104.8L306.9 1106.8L309.2 1108.7L311.5 1110.5L313.9 1112.3L316.3 1114.0L318.8 1115.7L321.3 1117.3L323.8 1118.9L326.4 1120.4L329.0 1121.9L331.6 1123.3L334.3 1124.7L337.0 1126.1L339.7 1127.4L342.4 1128.7L345.2 1129.9L348.0 1131.1L350.8 1132.3L353.6 1133.5L356.4 1134.7L359.2 1135.8L362.0 1137.0L364.9 1138.1L367.7 1139.2L370.6 1140.3L373.4 1141.4L376.3 1142.5L379.1 1143.6L381.9 1144.7L384.7 1145.7L387.6 1146.8L390.4 1147.9L393.2 1149.0L396.0 1150.0L398.9 1151.1L401.7 1152.1L404.5 1153.2L407.3 1154.2L410.1 1155.3L413.0 1156.3L415.8 1157.3L418.6 1158.3L421.4 1159.3L424.2 1160.3L427.1 1161.3L429.9 1162.2L432.7 1163.2L435.5 1164.1L438.4 1165.0L441.2 1166.0L444.0 1166.9L446.9 1167.8L449.7 1168.7L452.6 1169.5L455.4 1170.4L458.3 1171.2L461.1 1172.1L464.0 1172.9L466.8 1173.7L469.7 1174.5L472.6 1175.2L475.5 1176.0L478.4 1176.7L481.3 1177.4L484.2 1178.1L487.1 1178.8L490.0 1179.5L492.9 1180.1L495.9 1180.7L498.8 1181.3L501.7 1181.9L504.7 1182.5L507.7 1183.0L510.6 1183.6L513.6 1184.1L516.6 1184.5L519.6 1185.0L522.6 1185.4L525.6 1185.9L528.7 1186.2L531.7 1186.6L534.8 1187.0L537.8 1187.3L540.9 1187.6L543.9 1187.9L547.0 1188.2L550.1 1188.5L553.2 1188.8L556.3 1189.0L559.4 1189.3L562.4 1189.5L565.5 1189.8L568.6 1190.1L571.7 1190.4L574.8 1190.6L577.8 1190.9L580.9 1191.2L584.0 1191.6L587.0 1191.9L590.1 1192.3L593.1 1192.6L596.1 1193.0L599.1 1193.5L602.1 1193.9L605.1 1194.4L608.1 1194.9L611.0 1195.4L614.0 1196.0L616.9 1196.6L619.8 1197.3L622.7 1198.0L625.5 1198.8L628.4 1199.5L631.2 1200.4L634.0 1201.3L636.8 1202.2L639.5 1203.2L642.3 1204.3L645.0 1205.3L647.7 1206.5L650.3 1207.7L653.0 1208.9L655.6 1210.1L658.2 1211.4L660.8 1212.8L663.4 1214.2L665.9 1215.6L668.5 1217.0L671.0 1218.5L673.5 1220.1L676.0 1221.6L678.5 1223.2L681.0 1224.8L683.4 1226.5L685.9 1228.2L688.3 1229.9L690.7 1231.6L693.1 1233.4L695.5 1235.1L697.9 1236.9L700.3 1238.8L702.7 1240.6L705.1 1242.5L707.4 1244.3L709.8 1246.2L712.1 1248.2L714.5 1250.1L716.8 1252.0L719.1 1254.0L721.5 1255.9L723.8 1257.9L726.1 1259.9L728.5 1261.9L730.8 1263.9L733.1 1265.9L735.4 1267.9L737.7 1269.9L740.1 1271.9L742.4 1273.9L744.7 1275.9L747.0 1277.9L749.4 1279.9L751.7 1281.9L754.0 1283.9L756.4 1285.9L758.7 1287.9L761.1 1289.9L763.4 1291.8L765.8 1293.8L768.2 1295.7L770.6 1297.7L773.0 1299.6L775.4 1301.5L777.8 1303.4L780.2 1305.2L782.6 1307.1L785.0 1308.9L787.5 1310.8L789.9 1312.6L792.4 1314.4L794.9 1316.2L797.3 1317.9L799.8 1319.7L802.3 1321.4L804.8 1323.1L807.3 1324.8L809.9 1326.4L812.4 1328.1L814.9 1329.7L817.5 1331.3L820.0 1332.9L822.6 1334.5L825.2 1336.0L827.8 1337.5L830.4 1339.0L833.0 1340.5L835.6 1342.0L838.2 1343.4L840.9 1344.8L843.5 1346.2L846.2 1347.5L848.8 1348.9L851.5 1350.2L854.2 1351.4L856.9 1352.7L859.6 1353.9L862.4 1355.1L865.1 1356.3L867.9 1357.4L870.6 1358.5L873.4 1359.6L876.2 1360.6L879.0 1361.6L881.8 1362.6L884.6 1363.6L887.4 1364.5L890.3 1365.4L893.1 1366.3L896.0 1367.1L898.8 1368.0L901.7 1368.8L904.6 1369.5L907.5 1370.3L910.4 1371.0L913.3 1371.7L916.2 1372.4L919.1 1373.0L922.1 1373.6L925.0 1374.2L928.0 1374.8L930.9 1375.4L933.9 1375.9L936.9 1376.4L939.8 1376.9L942.8 1377.4L945.8 1377.8L948.8 1378.3L951.8 1378.7L954.8 1379.1L957.8 1379.4L960.8 1379.8L963.9 1380.1L966.9 1380.5L969.9 1380.8L972.9 1381.1L976.0 1381.3L979.0 1381.6L982.1 1381.8L985.1 1382.1L988.2 1382.3L991.2 1382.5L994.2 1382.7L997.3 1382.8L1000.4 1383.0L1003.4 1383.1L1006.5 1383.3L1009.5 1383.4L1012.6 1383.5L1015.6 1383.6L1018.7 1383.7L1021.8 1383.8L1024.8 1383.9L1027.9 1383.9L1030.9 1384.0L1034.0 1384.0L1037.0 1384.1L1040.1 1384.1L1043.1 1384.1L1046.2 1384.1L1049.2 1384.1L1052.3 1384.1L1055.3 1384.1L1058.3 1384.1L1061.4 1384.1L1064.4 1384.1L1067.4 1384.1L1070.5 1384.1L1073.5 1384.0L1076.5 1384.0L1079.5 1384.0L1082.5 1384.0L1085.5 1383.9L1088.5 1383.9L1091.5 1383.9L1094.5 1383.8L1097.4 1383.8L1100.4 1383.8L1103.4 1383.7L1106.3 1383.7L1109.3 1383.7L1112.2 1383.6L1115.1 1383.6L1118.1 1383.6L1121.0 1383.6" fill="none" stroke="#ff0000" stroke-width="4.5" stroke-linejoin="round"/>
<path d="M410.8 398.6L411.1 395.5L411.3 392.4L411.6 389.3L411.9 386.3L412.1 383.2L412.4 380.2L412.7 377.1L413.1 374.1L413.4 371.0L413.7 368.0L414.1 365.0L414.4 362.0L414.8 359.0L415.2 356.0L415.6 353.0L415.9 350.0L416.4 347.1L416.8 344.1L417.2 341.1L417.6 338.2L418.1 335.2L418.5 332.3L419.0 329.3L419.4 326.4L419.9 323.5L420.4 320.5L420.9 317.6L421.4 314.7L421.9 311.8L422.4 308.8L423.0 305.9L423.5 303.0L424.1 300.1L424.6 297.2L425.2 294.3L425.7 291.4L426.3 288.5L426.9 285.5L427.5 282.6L428.1 279.7L428.7 276.8L429.3 273.9L430.0 271.0L430.6 268.1L431.2 265.2L431.9 262.3L432.6 259.4L433.2 256.4L433.9 253.5L434.6 250.6L435.3 247.7L436.0 244.7L436.7 241.8L437.4 238.9L438.1 235.9L438.8 233.0L439.5 230.0L440.3 227.1L441.0 224.1L441.7 221.2L442.5 218.2L443.3 215.2L444.0 212.3L444.8 209.3L445.6 206.3L446.4 203.3L447.2 200.3L448.0 197.3L448.8 194.2L449.6 191.2L450.4 188.2L451.2 185.1L452.0 182.1L452.9 179.0L453.7 176.0L454.6 173.0L455.6 170.0L456.5 167.0L457.6 164.1L458.6 161.2L459.8 158.4L461.0 155.7L462.4 153.0L463.8 150.5L465.3 148.0L466.9 145.7L468.7 143.4L470.6 141.3L472.6 139.4L474.8 137.6L477.1 135.9L479.5 134.5L482.1 133.2L484.8 132.3L487.5 131.8L490.1 131.7L492.8 132.0L495.4 132.8L498.0 133.9L500.5 135.3L503.0 137.0L505.4 139.0L507.6 141.1L509.8 143.3L511.8 145.6L513.7 148.0L515.6 150.4L517.3 152.9L518.9 155.4L520.5 158.0L521.9 160.7L523.3 163.4L524.7 166.1L525.9 168.8L527.2 171.6L528.4 174.4L529.5 177.2L530.7 180.1L531.8 182.9L532.9 185.7L534.0 188.6L535.2 191.4L536.3 194.2L537.5 197.0L538.6 199.8L539.8 202.6L541.1 205.4L542.3 208.1L543.5 210.9L544.8 213.6L546.1 216.4L547.3 219.1L548.6 221.8L549.9 224.5L551.2 227.2L552.5 229.9L553.7 232.7L555.0 235.4L556.3 238.1L557.5 240.8L558.8 243.5L560.0 246.3L561.2 249.0L562.4 251.7L563.5 254.5L564.7 257.3L565.8 260.1L566.9 262.8L568.0 265.6L569.1 268.4L570.1 271.2L571.2 274.1L572.2 276.9L573.2 279.7L574.2 282.5L575.2 285.4L576.2 288.2L577.2 291.0L578.2 293.9L579.2 296.7L580.2 299.6L581.2 302.4L582.2 305.3L583.1 308.1L584.1 311.0L585.1 313.8L586.1 316.7L587.1 319.5L588.1 322.4L589.1 325.2L590.1 328.1L591.1 330.9L592.2 333.7L593.2 336.6L594.3 339.4L595.4 342.2L596.4 345.0L597.5 347.8L598.7 350.6L599.8 353.4L601.0 356.2L602.1 359.0L603.4 361.7L604.6 364.5L605.8 367.2L607.1 369.9L608.4 372.7L609.7 375.4L611.1 378.1L612.5 380.8L613.9 383.5L615.3 386.1L616.7 388.8L618.2 391.4L619.6 394.1L621.1 396.7L622.6 399.3L624.1 402.0L625.6 404.6L627.2 407.2L628.7 409.8L630.3 412.4L631.8 415.0L633.4 417.6L634.9 420.2L636.5 422.7L638.1 425.3L639.6 427.9L641.2 430.4L642.8 433.0L644.4 435.5L646.0 438.0L647.7 440.5L649.4 442.9L651.2 445.3L652.9 447.7L654.8 450.0L656.6 452.3L658.6 454.6L660.6 456.8L662.7 458.9L664.8 461.0L667.0 463.0L669.3 464.9L671.7 466.8L674.2 468.6L676.7 470.4L679.2 472.1L681.7 473.8L684.3 475.6L686.8 477.4L689.3 479.2L691.8 480.9L694.2 482.7L696.7 484.5L699.2 486.1L701.7 487.8L704.3 489.3L706.9 490.8L709.5 492.1L712.2 493.3L714.9 494.4L717.8 495.3L720.6 496.1L723.6 496.8L726.5 497.3L729.5 497.8L732.5 498.3L735.5 498.7L738.5 499.0L741.5 499.4L744.5 499.7L747.5 499.9L750.5 500.1L753.5 500.3L756.5 500.5L759.5 500.6L762.5 500.7L765.5 500.7L768.5 500.8L771.5 500.8L774.5 500.8L777.5 500.7L780.5 500.7L783.5 500.6L786.5 500.5L789.5 500.4L792.5 500.3L795.6 500.1L798.6 500.0L801.6 499.8L804.6 499.6L807.6 499.4L810.6 499.2L813.6 499.0L816.6 498.8L819.7 498.6L822.7 498.4L825.7 498.2L828.7 498.0L831.7 497.7L834.7 497.5L837.7 497.3L840.8 497.1L843.8 496.9L846.8 496.7L849.8 496.5L852.8 496.3L855.8 496.2L858.8 496.0L861.9 495.8L864.9 495.7L867.9 495.6L870.9 495.4L873.9 495.3L876.9 495.2L879.9 495.0L883.0 494.9L886.0 494.8L889.0 494.7L892.0 494.6L895.0 494.6L898.0 494.5L901.0 494.4L904.0 494.3L907.1 494.3L910.1 494.2L913.1 494.1L916.1 494.1L919.1 494.0L922.1 494.0L925.1 494.0L928.1 493.9L931.2 493.9L934.2 493.9L937.2 493.8L940.2 493.8L943.2 493.8L946.2 493.8L949.2 493.8L952.2 493.8L955.3 493.8L958.3 493.8L961.3 493.8L964.3 493.8L967.3 493.8L970.3 493.8L973.3 493.8L976.3 493.8L979.3 493.9L982.4 493.9L985.4 493.9L988.4 493.9L991.4 493.9L994.4 493.9L997.4 494.0L1000.4 494.0L1003.4 494.0L1006.5 494.0L1009.5 494.1L1012.5 494.1L1015.5 494.1L1018.5 494.1L1021.5 494.2L1024.5 494.2L1027.5 494.2L1030.6 494.2L1033.6 494.3L1036.6 494.3L1039.6 494.3L1042.6 494.3L1045.6 494.4L1048.6 494.4L1051.7 494.4L1054.7 494.4L1057.7 494.4L1060.7 494.4L1063.7 494.4L1066.7 494.4L1069.7 494.4L1072.8 494.4L1075.8 494.4L1078.8 494.4L1081.8 494.4L1084.8 494.4L1087.8 494.4L1090.8 494.4L1093.9 494.4L1096.9 494.3L1099.9 494.3L1102.9 494.3L1105.9 494.2L1108.9 494.2L1112.0 494.2L1115.0 494.1L1118.0 494.1L1121.0 494.0" fill="none" stroke="#0000ff" stroke-width="4.5" stroke-linejoin="round"/>
<path d="M409.6 1222.0L412.4 1223.1L415.2 1224.2L418.0 1225.2L420.9 1226.2L423.7 1227.1L426.6 1228.0L429.5 1228.9L432.4 1229.8L435.3 1230.6L438.2 1231.4L441.1 1232.1L444.0 1232.8L446.9 1233.5L449.9 1234.2L452.8 1234.8L455.8 1235.4L458.7 1236.0L461.7 1236.6L464.6 1237.2L467.6 1237.7L470.6 1238.3L473.6 1238.8L476.6 1239.3L479.6 1239.8L482.6 1240.2L485.6 1240.7L488.6 1241.1L491.6 1241.6L494.6 1242.0L497.6 1242.5L500.6 1242.9L503.6 1243.3L506.6 1243.8L509.6 1244.2L512.6 1244.7L515.6 1245.1L518.6 1245.5L521.6 1246.0L524.6 1246.4L527.6 1246.9L530.6 1247.4L533.6 1247.9L536.6 1248.4L539.6 1248.9L542.6 1249.4L545.5 1250.0L548.5 1250.5L551.5 1251.1L554.4 1251.7L557.4 1252.3L560.3 1252.9L563.3 1253.5L566.2 1254.2L569.1 1254.9L572.0 1255.6L574.9 1256.3L577.8 1257.0L580.7 1257.8L583.6 1258.6L586.5 1259.4L589.4 1260.3L592.2 1261.2L595.1 1262.1L597.9 1263.0L600.7 1263.9L603.6 1264.9L606.4 1266.0L609.2 1267.0L612.0 1268.1L614.8 1269.2L617.5 1270.3L620.3 1271.4L623.1 1272.6L625.8 1273.8L628.6 1275.0L631.3 1276.2L634.0 1277.5L636.7 1278.7L639.5 1280.0L642.2 1281.3L644.9 1282.7L647.6 1284.0L650.3 1285.4L653.0 1286.7L655.7 1288.1L658.3 1289.5L661.0 1290.9L663.7 1292.3L666.4 1293.8L669.0 1295.2L671.7 1296.6L674.4 1298.1L677.0 1299.5L679.7 1301.0L682.3 1302.5L685.0 1304.0L687.6 1305.4L690.3 1306.9L692.9 1308.4L695.6 1309.9L698.2 1311.4L700.9 1312.8L703.5 1314.3L706.2 1315.8L708.9 1317.3L711.5 1318.8L714.2 1320.2L716.8 1321.7L719.5 1323.1L722.1 1324.6L724.8 1326.0L727.5 1327.5L730.2 1328.9L732.8 1330.3L735.5 1331.7L738.2 1333.1L740.9 1334.5L743.6 1335.8L746.3 1337.2L749.0 1338.5L751.7 1339.8L754.4 1341.1L757.1 1342.4L759.8 1343.6L762.6 1344.9L765.3 1346.1L768.1 1347.3L770.8 1348.5L773.6 1349.6L776.3 1350.8L779.1 1351.9L781.9 1353.0L784.7 1354.1L787.5 1355.1L790.3 1356.2L793.1 1357.2L795.9 1358.2L798.7 1359.1L801.5 1360.1L804.4 1361.0L807.2 1362.0L810.1 1362.9L812.9 1363.7L815.8 1364.6L818.6 1365.4L821.5 1366.3L824.4 1367.1L827.3 1367.9L830.1 1368.6L833.0 1369.4L835.9 1370.1L838.8 1370.9L841.7 1371.6L844.6 1372.2L847.5 1372.9L850.5 1373.6L853.4 1374.2L856.3 1374.8L859.2 1375.4L862.2 1376.0L865.1 1376.6L868.1 1377.2L871.0 1377.7L874.0 1378.2L876.9 1378.8L879.9 1379.3L882.8 1379.8L885.8 1380.2L888.8 1380.7L891.8 1381.1L894.7 1381.6L897.7 1382.0L900.7 1382.4L903.7 1382.8L906.7 1383.2L909.7 1383.5L912.7 1383.9L915.7 1384.2L918.7 1384.6L921.7 1384.9L924.7 1385.2L927.7 1385.5L930.7 1385.8L933.7 1386.0L936.7 1386.3L939.7 1386.5L942.8 1386.8L945.8 1387.0L948.8 1387.2L951.8 1387.4L954.9 1387.6L957.9 1387.8L960.9 1388.0L963.9 1388.2L967.0 1388.3L970.0 1388.5L973.0 1388.6L976.1 1388.7L979.1 1388.9L982.1 1389.0L985.2 1389.1L988.2 1389.2L991.2 1389.3L994.3 1389.4L997.3 1389.4L1000.4 1389.5L1003.4 1389.6L1006.4 1389.6L1009.5 1389.7L1012.5 1389.7L1015.5 1389.7L1018.6 1389.8L1021.6 1389.8L1024.7 1389.8L1027.7 1389.8L1030.7 1389.8L1033.8 1389.8L1036.8 1389.8L1039.8 1389.8L1042.9 1389.8L1045.9 1389.8L1048.9 1389.7L1051.9 1389.7L1055.0 1389.7L1058.0 1389.6L1061.0 1389.6L1064.0 1389.5L1067.1 1389.5L1070.1 1389.4L1073.1 1389.4L1076.1 1389.3L1079.1 1389.3L1082.1 1389.2L1085.1 1389.1L1088.1 1389.1L1091.1 1389.0L1094.1 1388.9L1097.1 1388.9L1100.1 1388.8L1103.1 1388.7L1106.1 1388.6L1109.1 1388.6L1112.1 1388.5L1115.0 1388.4L1118.0 1388.3L1121.0 1388.3" fill="none" stroke="#0000ff" stroke-width="4.5" stroke-linejoin="round"/>
<path d="M204.0 359.0L204.5 362.0L204.9 364.9L205.3 367.9L205.7 370.9L206.1 373.9L206.5 376.8L206.9 379.8L207.2 382.8L207.6 385.8L207.9 388.8L208.3 391.7L208.6 394.7L208.9 397.7L209.3 400.7L209.6 403.7L209.9 406.7L210.2 409.6L210.5 412.6L210.8 415.6L211.1 418.6L211.3 421.6L211.6 424.6L211.9 427.6L212.1 430.6L212.4 433.6L212.6 436.6L212.9 439.6L213.1 442.6L213.3 445.5L213.6 448.5L213.8 451.5L214.0 454.5L214.2 457.5L214.5 460.5L214.7 463.5L214.9 466.5L215.1 469.5L215.3 472.5L215.5 475.5L215.7 478.5L215.9 481.5L216.1 484.5L216.3 487.5L216.5 490.5L216.6 493.5L216.8 496.5L217.0 499.5L217.2 502.5L217.4 505.5L217.6 508.5L217.8 511.6L217.9 514.6L218.1 517.6L218.3 520.6L218.5 523.6L218.7 526.6L218.9 529.6L219.1 532.6L219.2 535.6L219.4 538.6L219.6 541.6L219.8 544.6L220.0 547.6L220.2 550.6L220.4 553.6L220.6 556.6L220.8 559.6L221.0 562.6L221.2 565.6L221.5 568.6L221.7 571.6L221.9 574.6L222.1 577.6L222.4 580.6L222.6 583.6L222.8 586.6L223.1 589.5L223.3 592.5L223.6 595.5L223.9 598.5L224.1 601.5L224.4 604.5L224.7 607.5L225.0 610.5L225.3 613.5L225.5 616.5L225.9 619.5L226.2 622.5L226.5 625.4L226.8 628.4L227.1 631.4L227.5 634.4L227.8 637.4L228.2 640.4L228.5 643.3L228.9 646.3L229.3 649.3L229.7 652.3L230.1 655.3L230.5 658.2L230.8 661.2L231.3 664.2L231.7 667.2L232.1 670.1L232.5 673.1L232.9 676.1L233.3 679.1L233.8 682.0L234.2 685.0L234.7 688.0L235.1 690.9L235.5 693.9L236.0 696.9L236.4 699.9L236.9 702.8L237.4 705.8L237.8 708.8L238.3 711.7L238.7 714.7L239.2 717.7L239.7 720.6L240.1 723.6L240.6 726.6L241.1 729.5L241.5 732.5L242.0 735.5L242.5 738.5L242.9 741.4L243.4 744.4L243.9 747.4L244.3 750.3L244.8 753.3L245.3 756.3L245.7 759.2L246.2 762.2L246.6 765.2L247.1 768.2L247.6 771.1L248.0 774.1L248.5 777.1L248.9 780.1L249.3 783.0L249.8 786.0L250.2 789.0L250.7 791.9L251.1 794.9L251.6 797.9L252.1 800.9L252.6 803.8L253.1 806.8L253.7 809.7L254.2 812.7L254.9 815.6L255.5 818.6L256.2 821.5L256.9 824.5L257.7 827.4L258.5 830.3L259.3 833.2L260.2 836.1L261.2 839.0L262.2 841.9L263.3 844.8L264.5 847.7L265.7 850.5L267.0 853.4L268.4 856.2L269.8 859.0L271.3 861.8L272.9 864.5L274.6 867.0L276.4 869.3L278.2 871.3L280.1 872.9L282.1 874.1L284.2 874.8L286.4 875.0L288.6 874.7L290.8 873.9L293.1 872.7L295.3 871.0L297.4 869.1L299.5 866.9L301.4 864.4L303.2 861.7L304.9 858.9L306.4 856.0L307.9 853.0L309.2 850.0L310.5 847.1L311.7 844.2L312.8 841.3L313.9 838.4L314.9 835.5L315.9 832.7L316.9 829.9L317.8 827.0L318.7 824.2L319.6 821.3L320.5 818.5L321.4 815.6L322.2 812.8L323.1 809.9L324.0 807.1L324.8 804.2L325.6 801.3L326.5 798.4L327.3 795.6L328.1 792.7L328.9 789.8L329.7 786.9L330.5 784.0L331.2 781.1L332.0 778.3L332.8 775.4L333.5 772.5L334.3 769.6L335.0 766.7L335.7 763.8L336.5 760.8L337.2 757.9L337.9 755.0L338.6 752.1L339.3 749.2L340.0 746.3L340.7 743.4L341.4 740.4L342.1 737.5L342.7 734.6L343.4 731.7L344.1 728.8L344.7 725.8L345.4 722.9L346.0 720.0L346.7 717.0L347.3 714.1L348.0 711.2L348.6 708.2L349.2 705.3L349.9 702.4L350.5 699.4L351.1 696.5L351.7 693.6L352.3 690.6L352.9 687.7L353.5 684.7L354.1 681.8L354.7 678.8L355.3 675.9L355.9 672.9L356.5 670.0L357.1 667.0L357.6 664.1L358.2 661.1L358.8 658.2L359.4 655.2L359.9 652.3L360.5 649.3L361.1 646.4L361.6 643.4L362.2 640.5L362.7 637.5L363.3 634.6L363.8 631.6L364.4 628.6L364.9 625.7L365.5 622.7L366.0 619.8L366.5 616.8L367.1 613.8L367.6 610.9L368.2 607.9L368.7 605.0L369.2 602.0L369.7 599.0L370.3 596.1L370.8 593.1L371.3 590.1L371.9 587.2L372.4 584.2L372.9 581.3L373.4 578.3L373.9 575.3L374.5 572.4L375.0 569.4L375.5 566.4L376.0 563.5L376.6 560.5L377.1 557.5L377.6 554.6L378.1 551.6L378.6 548.7L379.1 545.7L379.7 542.7L380.2 539.8L380.7 536.8L381.2 533.8L381.7 530.9L382.3 527.9L382.8 525.0L383.3 522.0L383.8 519.0L384.3 516.1L384.9 513.1L385.4 510.2L385.9 507.2L386.4 504.2L387.0 501.3L387.5 498.3L388.0 495.4L388.6 492.4L389.1 489.5L389.6 486.5L390.2 483.5L390.7 480.6L391.3 477.6L391.8 474.7L392.3 471.7L392.9 468.8L393.4 465.8L394.0 462.9L394.5 459.9L395.1 457.0L395.6 454.0L396.2 451.1L396.8 448.2L397.3 445.2L397.9 442.3L398.5 439.3L399.0 436.4L399.6 433.5L400.2 430.5L400.8 427.6L401.4 424.6L402.0 421.7L402.6 418.8L403.2 415.8L403.8 412.9L404.4 410.0L405.0 407.1L405.6 404.1L406.2 401.2L406.8 398.3L407.4 395.4L408.1 392.4L408.7 389.5L409.3 386.6L410.0 383.7L410.6 380.8L411.2 377.8L411.9 374.9L412.5 372.0L413.2 369.1L413.9 366.2L414.5 363.3L415.2 360.3L415.9 357.4L416.5 354.5L417.2 351.6L417.9 348.7L418.6 345.8L419.3 342.8L420.0 339.9L420.7 337.0L421.4 334.1L422.1 331.2L422.8 328.2L423.5 325.3L424.2 322.4L424.9 319.4L425.6 316.5L426.3 313.6L427.1 310.6L427.8 307.7L428.5 304.8L429.3 301.8L430.0 298.9L430.7 295.9L431.5 293.0L432.2 290.0L433.0 287.0L433.7 284.1L434.5 281.1L435.2 278.1L436.0 275.2L436.8 272.2L437.6 269.2L438.4 266.3L439.2 263.3L440.1 260.4L441.0 257.5L441.9 254.6L442.9 251.7L443.9 248.9L445.0 246.1L446.1 243.3L447.3 240.5L448.5 237.8L449.8 235.2L451.2 232.5L452.7 230.0L454.3 227.4L455.9 225.0L457.7 222.6L459.5 220.2L461.4 218.0L463.5 215.7L465.6 213.6L467.9 211.6L470.2 209.7L472.7 207.9L475.1 206.3L477.7 205.0L480.3 203.8L482.9 203.0L485.5 202.4L488.2 202.2L490.8 202.3L493.5 202.7L496.1 203.6L498.7 204.8L501.2 206.4L503.7 208.1L506.2 210.1L508.6 212.2L511.0 214.4L513.3 216.6L515.5 218.8L517.7 221.1L519.8 223.4L521.8 225.8L523.8 228.1L525.8 230.5L527.7 232.9L529.6 235.3L531.4 237.7L533.1 240.2L534.9 242.7L536.5 245.2L538.2 247.7L539.8 250.2L541.4 252.7L542.9 255.3L544.4 257.9L545.9 260.5L547.3 263.1L548.8 265.7L550.2 268.3L551.5 270.9L552.9 273.6L554.2 276.2L555.6 278.9L556.9 281.5L558.2 284.2L559.5 286.9L560.8 289.6L562.0 292.2L563.3 294.9L564.6 297.6L565.8 300.3L567.1 303.0L568.4 305.7L569.7 308.4L571.0 311.1L572.3 313.8L573.6 316.5L574.9 319.2L576.2 321.8L577.6 324.5L578.9 327.2L580.3 329.9L581.7 332.5L583.2 335.2L584.6 337.8L586.1 340.4L587.6 343.1L589.1 345.7L590.6 348.3L592.2 350.9L593.7 353.5L595.3 356.1L596.9 358.7L598.5 361.3L600.1 363.9L601.7 366.4L603.3 369.0L605.0 371.6L606.6 374.1L608.2 376.7L609.9 379.2L611.5 381.8L613.2 384.3L614.8 386.8L616.5 389.4L618.1 391.9L619.8 394.4L621.4 396.9L623.1 399.4L624.7 401.9L626.4 404.4L628.0 406.9L629.6 409.4L631.2 411.9L632.8 414.3L634.4 416.8L635.9 419.3L637.5 421.8L639.0 424.2L640.6 426.7L642.1 429.1L643.7 431.6L645.3 434.0L647.0 436.4L648.7 438.7L650.6 441.0L652.5 443.3L654.6 445.5L656.8 447.7L659.0 449.8L661.4 451.9L663.8 453.9L666.3 455.9L668.8 457.7L671.3 459.6L673.8 461.3L676.4 463.0L678.9 464.7L681.5 466.3L684.1 467.8L686.8 469.3L689.4 470.7L692.1 472.1L694.7 473.4L697.4 474.6L700.1 475.9L702.9 477.0L705.6 478.1L708.3 479.2L711.1 480.2L713.9 481.2L716.7 482.1L719.5 483.0L722.3 483.8L725.1 484.6L728.0 485.4L730.9 486.1L733.7 486.8L736.6 487.4L739.5 488.0L742.4 488.6L745.3 489.1L748.2 489.6L751.2 490.1L754.1 490.5L757.0 490.9L760.0 491.3L763.0 491.6L765.9 491.9L768.9 492.2L771.9 492.5L774.9 492.7L777.9 492.9L780.9 493.1L783.9 493.3L786.9 493.5L789.9 493.6L793.0 493.7L796.0 493.8L799.0 493.9L802.0 493.9L805.1 494.0L808.1 494.0L811.2 494.1L814.2 494.1L817.2 494.1L820.3 494.1L823.3 494.1L826.4 494.0L829.4 494.0L832.5 494.0L835.5 493.9L838.6 493.9L841.6 493.9L844.6 493.8L847.7 493.8L850.7 493.7L853.7 493.7L856.8 493.6L859.8 493.6L862.8 493.6L865.9 493.5L868.9 493.5L871.9 493.4L874.9 493.4L877.9 493.4L880.9 493.3L884.0 493.3L887.0 493.3L890.0 493.2L893.0 493.2L896.0 493.2L899.0 493.1L902.0 493.1L905.0 493.1L908.0 493.0L911.0 493.0L914.0 493.0L917.0 492.9L920.0 492.9L923.0 492.9L926.0 492.9L929.0 492.8L932.0 492.8L935.0 492.8L938.0 492.8L941.0 492.7L943.9 492.7L946.9 492.7L949.9 492.7L952.9 492.7L955.9 492.7L958.9 492.6L961.9 492.6L964.9 492.6L967.8 492.6L970.8 492.6L973.8 492.6L976.8 492.6L979.8 492.6L982.8 492.6L985.8 492.6L988.7 492.6L991.7 492.6L994.7 492.6L997.7 492.6L1000.7 492.6L1003.7 492.7L1006.7 492.7L1009.6 492.7L1012.6 492.7L1015.6 492.7L1018.6 492.8L1021.6 492.8L1024.6 492.8L1027.6 492.8L1030.6 492.9L1033.6 492.9L1036.6 492.9L1039.6 493.0L1042.6 493.0L1045.6 493.1L1048.6 493.1L1051.6 493.2L1054.6 493.2L1057.6 493.3L1060.6 493.3L1063.6 493.4L1066.6 493.4L1069.6 493.5L1072.6 493.6L1075.6 493.6L1078.6 493.7L1081.6 493.8L1084.7 493.9L1087.7 493.9L1090.7 494.0L1093.7 494.1L1096.7 494.2L1099.8 494.3L1102.8 494.4L1105.8 494.5L1108.9 494.6L1111.9 494.7L1114.9 494.8L1118.0 494.9L1121.0 495.0" fill="none" stroke="#ff00ff" stroke-width="4.5" stroke-linejoin="round"/>
<path d="M204.0 1110.5L205.9 1112.7L207.8 1115.0L209.7 1117.3L211.6 1119.6L213.5 1121.9L215.4 1124.2L217.3 1126.6L219.2 1128.9L221.2 1131.2L223.1 1133.6L225.0 1135.9L227.0 1138.3L229.0 1140.6L230.9 1143.0L232.9 1145.3L234.9 1147.6L236.9 1149.9L239.0 1152.2L241.0 1154.5L243.0 1156.8L245.1 1159.0L247.2 1161.2L249.3 1163.4L251.4 1165.6L253.6 1167.7L255.7 1169.9L257.9 1171.9L260.1 1174.0L262.4 1176.0L264.6 1178.0L266.9 1179.9L269.2 1181.8L271.5 1183.7L273.9 1185.5L276.2 1187.2L278.6 1188.9L281.1 1190.6L283.5 1192.2L286.0 1193.7L288.5 1195.2L291.1 1196.6L293.7 1198.0L296.3 1199.3L298.9 1200.6L301.6 1201.8L304.3 1202.9L307.0 1204.0L309.7 1205.0L312.5 1206.0L315.3 1207.0L318.1 1207.9L320.9 1208.7L323.8 1209.6L326.7 1210.4L329.5 1211.1L332.4 1211.9L335.4 1212.6L338.3 1213.2L341.2 1213.9L344.2 1214.5L347.2 1215.1L350.1 1215.7L353.1 1216.3L356.1 1216.8L359.1 1217.4L362.1 1217.9L365.1 1218.4L368.1 1218.9L371.1 1219.5L374.2 1220.0L377.2 1220.5L380.2 1221.0L383.2 1221.5L386.2 1222.1L389.2 1222.6L392.2 1223.2L395.2 1223.7L398.1 1224.3L401.1 1224.9L404.1 1225.6L407.0 1226.2L410.0 1226.8L412.9 1227.5L415.8 1228.2L418.8 1228.9L421.7 1229.6L424.6 1230.3L427.5 1231.0L430.4 1231.7L433.3 1232.4L436.2 1233.1L439.1 1233.8L442.0 1234.5L444.9 1235.2L447.8 1235.9L450.8 1236.6L453.7 1237.2L456.6 1237.9L459.5 1238.5L462.5 1239.1L465.4 1239.7L468.3 1240.2L471.3 1240.8L474.3 1241.3L477.2 1241.8L480.2 1242.3L483.2 1242.8L486.2 1243.3L489.1 1243.8L492.1 1244.2L495.1 1244.7L498.1 1245.2L501.1 1245.7L504.0 1246.2L507.0 1246.6L510.0 1247.1L513.0 1247.7L515.9 1248.2L518.9 1248.7L521.9 1249.3L524.8 1249.9L527.7 1250.5L530.7 1251.2L533.6 1251.8L536.5 1252.5L539.4 1253.2L542.3 1254.0L545.2 1254.7L548.1 1255.5L551.0 1256.3L553.9 1257.2L556.7 1258.0L559.6 1258.9L562.4 1259.8L565.3 1260.8L568.1 1261.7L570.9 1262.7L573.8 1263.7L576.6 1264.7L579.4 1265.7L582.2 1266.8L585.0 1267.9L587.7 1269.0L590.5 1270.1L593.3 1271.2L596.1 1272.4L598.8 1273.5L601.6 1274.7L604.3 1275.9L607.1 1277.1L609.8 1278.4L612.5 1279.6L615.2 1280.9L618.0 1282.2L620.7 1283.5L623.4 1284.8L626.1 1286.1L628.8 1287.4L631.4 1288.8L634.1 1290.1L636.8 1291.5L639.5 1292.9L642.1 1294.3L644.8 1295.7L647.4 1297.1L650.1 1298.6L652.7 1300.0L655.4 1301.4L658.0 1302.9L660.7 1304.3L663.3 1305.8L666.0 1307.2L668.6 1308.7L671.2 1310.1L673.9 1311.6L676.5 1313.1L679.2 1314.5L681.8 1316.0L684.4 1317.4L687.1 1318.9L689.7 1320.3L692.4 1321.8L695.0 1323.2L697.7 1324.6L700.3 1326.1L703.0 1327.5L705.6 1328.9L708.3 1330.3L711.0 1331.7L713.6 1333.0L716.3 1334.4L719.0 1335.7L721.7 1337.1L724.4 1338.4L727.1 1339.7L729.8 1341.0L732.5 1342.2L735.2 1343.5L738.0 1344.7L740.7 1345.9L743.5 1347.1L746.2 1348.3L749.0 1349.4L751.8 1350.5L754.5 1351.6L757.3 1352.7L760.1 1353.7L763.0 1354.7L765.8 1355.7L768.6 1356.7L771.5 1357.6L774.3 1358.6L777.2 1359.4L780.1 1360.3L783.0 1361.1L785.9 1361.9L788.8 1362.7L791.7 1363.5L794.6 1364.2L797.6 1365.0L800.5 1365.7L803.5 1366.4L806.4 1367.0L809.4 1367.7L812.3 1368.3L815.3 1368.9L818.3 1369.5L821.2 1370.1L824.2 1370.7L827.2 1371.2L830.1 1371.8L833.1 1372.3L836.1 1372.8L839.1 1373.3L842.1 1373.8L845.0 1374.3L848.0 1374.8L851.0 1375.3L854.0 1375.7L857.0 1376.2L860.0 1376.6L862.9 1377.0L865.9 1377.5L868.9 1377.9L871.9 1378.3L874.9 1378.7L877.9 1379.1L880.8 1379.4L883.8 1379.8L886.8 1380.2L889.8 1380.5L892.8 1380.8L895.8 1381.2L898.8 1381.5L901.7 1381.8L904.7 1382.1L907.7 1382.4L910.7 1382.7L913.7 1383.0L916.7 1383.2L919.7 1383.5L922.7 1383.8L925.7 1384.0L928.7 1384.3L931.6 1384.5L934.6 1384.7L937.6 1384.9L940.6 1385.2L943.6 1385.4L946.6 1385.6L949.6 1385.7L952.6 1385.9L955.6 1386.1L958.6 1386.3L961.6 1386.4L964.6 1386.6L967.6 1386.8L970.6 1386.9L973.6 1387.0L976.6 1387.2L979.6 1387.3L982.6 1387.4L985.6 1387.5L988.6 1387.6L991.6 1387.8L994.6 1387.9L997.6 1387.9L1000.6 1388.0L1003.6 1388.1L1006.6 1388.2L1009.6 1388.3L1012.6 1388.3L1015.6 1388.4L1018.6 1388.5L1021.6 1388.5L1024.6 1388.6L1027.6 1388.6L1030.6 1388.6L1033.6 1388.7L1036.6 1388.7L1039.6 1388.7L1042.6 1388.8L1045.6 1388.8L1048.7 1388.8L1051.7 1388.8L1054.7 1388.8L1057.7 1388.8L1060.7 1388.8L1063.7 1388.8L1066.7 1388.8L1069.7 1388.8L1072.7 1388.8L1075.8 1388.8L1078.8 1388.8L1081.8 1388.8L1084.8 1388.7L1087.8 1388.7L1090.8 1388.7L1093.8 1388.6L1096.9 1388.6L1099.9 1388.6L1102.9 1388.5L1105.9 1388.5L1108.9 1388.5L1111.9 1388.4L1115.0 1388.4L1118.0 1388.3L1121.0 1388.3" fill="none" stroke="#ff00ff" stroke-width="4.5" stroke-linejoin="round"/>
<path d="M204.0 244.0L204.2 247.0L204.4 250.0L204.6 253.0L204.8 256.1L205.0 259.1L205.2 262.1L205.4 265.1L205.6 268.1L205.8 271.1L206.0 274.1L206.2 277.1L206.5 280.1L206.7 283.1L206.9 286.1L207.1 289.1L207.4 292.1L207.6 295.1L207.8 298.1L208.1 301.1L208.3 304.1L208.6 307.1L208.8 310.1L209.1 313.1L209.3 316.1L209.6 319.1L209.8 322.1L210.1 325.1L210.4 328.1L210.6 331.1L210.9 334.1L211.2 337.0L211.4 340.0L211.7 343.0L212.0 346.0L212.3 349.0L212.5 352.0L212.8 355.0L213.1 357.9L213.4 360.9L213.7 363.9L214.0 366.9L214.3 369.9L214.6 372.9L214.9 375.8L215.2 378.8L215.5 381.8L215.8 384.8L216.1 387.8L216.4 390.7L216.8 393.7L217.1 396.7L217.4 399.7L217.7 402.7L218.0 405.6L218.4 408.6L218.7 411.6L219.0 414.6L219.4 417.6L219.7 420.5L220.0 423.5L220.4 426.5L220.7 429.5L221.1 432.4L221.4 435.4L221.8 438.4L222.1 441.4L222.5 444.4L222.9 447.3L223.2 450.3L223.6 453.3L223.9 456.3L224.3 459.3L224.7 462.3L225.1 465.2L225.4 468.2L225.8 471.2L226.2 474.2L226.6 477.2L227.0 480.1L227.3 483.1L227.7 486.1L228.1 489.1L228.5 492.1L228.9 495.1L229.3 498.1L229.7 501.1L230.1 504.0L230.5 507.0L230.9 510.0L231.3 513.0L231.7 516.0L232.2 519.0L232.6 522.0L233.0 525.0L233.4 528.0L233.8 531.0L234.2 534.0L234.7 537.0L235.1 540.0L235.5 543.0L236.0 546.0L236.4 548.9L236.8 551.9L237.3 554.9L237.7 557.9L238.1 560.9L238.6 563.9L239.0 566.9L239.5 569.9L239.9 572.9L240.4 575.9L240.8 578.9L241.3 581.9L241.7 584.9L242.2 587.9L242.6 590.8L243.1 593.8L243.6 596.8L244.0 599.8L244.5 602.8L244.9 605.7L245.4 608.7L245.9 611.7L246.3 614.7L246.8 617.6L247.3 620.6L247.7 623.5L248.2 626.5L248.7 629.5L249.1 632.4L249.6 635.4L250.1 638.3L250.6 641.3L251.0 644.2L251.5 647.1L252.0 650.1L252.5 653.0L252.9 655.9L253.4 658.9L253.9 661.8L254.4 664.7L254.8 667.6L255.3 670.5L255.8 673.4L256.3 676.3L256.8 679.2L257.3 682.1L257.8 685.0L258.4 687.9L258.9 690.8L259.5 693.7L260.0 696.6L260.7 699.5L261.3 702.4L261.9 705.3L262.6 708.2L263.3 711.2L264.1 714.1L264.8 717.0L265.7 719.9L266.5 722.8L267.4 725.8L268.3 728.7L269.3 731.7L270.3 734.6L271.4 737.6L272.5 740.6L273.6 743.5L274.9 746.5L276.1 749.5L277.4 752.6L278.8 755.6L280.3 758.5L281.8 761.4L283.4 764.2L285.1 766.8L286.9 769.2L288.8 771.4L290.9 773.3L293.0 774.8L295.3 775.9L297.7 776.6L300.2 776.9L302.8 776.7L305.4 776.0L307.9 775.0L310.5 773.6L313.0 771.9L315.4 770.1L317.7 768.2L320.0 766.1L322.1 764.1L324.1 761.9L326.1 759.7L328.0 757.4L329.8 755.1L331.5 752.7L333.1 750.3L334.7 747.8L336.2 745.3L337.7 742.7L339.1 740.1L340.4 737.4L341.7 734.7L342.9 732.0L344.1 729.3L345.2 726.5L346.3 723.7L347.4 720.8L348.4 718.0L349.4 715.1L350.4 712.2L351.3 709.3L352.2 706.4L353.2 703.5L354.1 700.6L355.0 697.7L355.9 694.8L356.7 691.9L357.6 688.9L358.5 686.0L359.3 683.1L360.2 680.2L361.0 677.3L361.9 674.4L362.7 671.4L363.5 668.5L364.3 665.6L365.1 662.7L365.9 659.7L366.7 656.8L367.5 653.9L368.3 651.0L369.0 648.0L369.8 645.1L370.6 642.2L371.3 639.3L372.1 636.3L372.8 633.4L373.5 630.5L374.3 627.6L375.0 624.6L375.7 621.7L376.4 618.8L377.1 615.8L377.8 612.9L378.5 610.0L379.2 607.0L379.9 604.1L380.6 601.2L381.3 598.3L382.0 595.3L382.6 592.4L383.3 589.5L384.0 586.5L384.6 583.6L385.3 580.7L385.9 577.7L386.6 574.8L387.2 571.8L387.9 568.9L388.5 566.0L389.1 563.0L389.8 560.1L390.4 557.2L391.0 554.2L391.6 551.3L392.2 548.4L392.9 545.4L393.5 542.5L394.1 539.5L394.7 536.6L395.3 533.7L395.9 530.7L396.5 527.8L397.1 524.9L397.7 521.9L398.3 519.0L398.9 516.1L399.5 513.1L400.1 510.2L400.7 507.2L401.3 504.3L401.9 501.4L402.5 498.4L403.0 495.5L403.6 492.6L404.2 489.6L404.8 486.7L405.4 483.7L406.0 480.8L406.6 477.9L407.2 474.9L407.7 472.0L408.3 469.1L408.9 466.1L409.5 463.2L410.1 460.3L410.7 457.3L411.3 454.4L411.9 451.4L412.5 448.5L413.1 445.6L413.7 442.6L414.3 439.7L414.9 436.8L415.5 433.8L416.1 430.9L416.7 428.0L417.3 425.0L417.9 422.1L418.5 419.2L419.1 416.2L419.7 413.3L420.3 410.4L421.0 407.5L421.6 404.5L422.2 401.6L422.8 398.7L423.5 395.7L424.1 392.8L424.7 389.9L425.4 387.0L426.0 384.0L426.7 381.1L427.3 378.2L428.0 375.3L428.6 372.3L429.3 369.4L430.0 366.5L430.7 363.6L431.3 360.6L432.0 357.7L432.7 354.8L433.4 351.9L434.1 349.0L434.8 346.0L435.5 343.1L436.2 340.2L436.9 337.3L437.7 334.4L438.4 331.5L439.1 328.5L439.9 325.6L440.7 322.7L441.4 319.8L442.2 316.9L443.0 314.0L443.7 311.1L444.5 308.2L445.3 305.3L446.2 302.4L447.0 299.5L447.8 296.6L448.6 293.7L449.5 290.8L450.4 287.9L451.2 285.0L452.1 282.1L453.0 279.2L453.9 276.3L454.8 273.4L455.7 270.5L456.7 267.7L457.6 264.8L458.6 261.9L459.5 259.0L460.5 256.2L461.5 253.3L462.5 250.4L463.6 247.5L464.6 244.7L465.6 241.8L466.7 239.0L467.8 236.1L469.0 233.3L470.2 230.6L471.5 227.9L472.9 225.2L474.4 222.7L476.0 220.2L477.7 217.8L479.7 215.6L481.7 213.5L484.0 211.5L486.3 209.7L488.8 208.1L491.4 206.6L494.0 205.5L496.7 204.5L499.5 203.8L502.3 203.4L505.0 203.3L507.8 203.6L510.5 204.2L513.2 205.1L515.8 206.4L518.3 207.9L520.8 209.8L523.1 211.8L525.5 214.0L527.7 216.3L529.8 218.7L531.9 221.1L533.9 223.6L535.8 226.1L537.6 228.6L539.4 231.1L541.1 233.7L542.7 236.2L544.2 238.8L545.7 241.4L547.2 244.1L548.6 246.7L550.0 249.4L551.3 252.0L552.6 254.7L553.9 257.4L555.1 260.1L556.3 262.8L557.5 265.5L558.7 268.2L559.9 271.0L561.0 273.7L562.2 276.4L563.3 279.2L564.5 281.9L565.7 284.6L566.8 287.4L568.0 290.1L569.3 292.8L570.5 295.5L571.8 298.2L573.0 300.9L574.3 303.6L575.6 306.3L577.0 309.0L578.3 311.7L579.7 314.4L581.0 317.1L582.4 319.7L583.8 322.4L585.2 325.1L586.7 327.7L588.1 330.4L589.5 333.0L591.0 335.7L592.5 338.3L593.9 341.0L595.4 343.6L596.9 346.2L598.4 348.9L599.8 351.5L601.3 354.2L602.8 356.8L604.3 359.4L605.8 362.0L607.3 364.7L608.8 367.3L610.3 369.9L611.8 372.5L613.3 375.2L614.8 377.8L616.2 380.4L617.7 383.0L619.2 385.6L620.7 388.2L622.2 390.8L623.7 393.4L625.3 396.0L626.8 398.6L628.3 401.2L629.9 403.7L631.4 406.3L633.0 408.8L634.6 411.3L636.2 413.9L637.8 416.4L639.5 418.8L641.1 421.3L642.8 423.8L644.5 426.2L646.2 428.6L648.0 431.1L649.7 433.4L651.5 435.8L653.3 438.2L655.2 440.5L657.1 442.8L659.0 445.1L660.9 447.4L662.9 449.6L664.9 451.8L667.0 454.0L669.0 456.2L671.2 458.4L673.3 460.5L675.5 462.6L677.7 464.6L680.0 466.6L682.3 468.6L684.6 470.6L687.0 472.5L689.4 474.4L691.8 476.2L694.3 478.0L696.8 479.8L699.3 481.5L701.9 483.1L704.4 484.7L707.0 486.3L709.7 487.8L712.3 489.2L715.0 490.6L717.7 491.9L720.4 493.1L723.2 494.3L725.9 495.5L728.7 496.5L731.5 497.5L734.4 498.4L737.2 499.3L740.1 500.0L743.0 500.7L745.9 501.3L748.8 501.9L751.7 502.3L754.6 502.7L757.6 503.0L760.5 503.3L763.5 503.4L766.5 503.6L769.5 503.7L772.5 503.7L775.5 503.7L778.5 503.6L781.5 503.6L784.5 503.4L787.5 503.3L790.5 503.1L793.6 502.9L796.6 502.7L799.6 502.5L802.6 502.3L805.6 502.1L808.7 501.9L811.7 501.7L814.7 501.4L817.7 501.2L820.7 501.0L823.7 500.7L826.7 500.5L829.7 500.3L832.7 500.0L835.7 499.8L838.7 499.6L841.7 499.4L844.7 499.1L847.7 498.9L850.7 498.7L853.7 498.5L856.7 498.3L859.6 498.0L862.6 497.8L865.6 497.6L868.6 497.4L871.6 497.2L874.6 497.0L877.6 496.9L880.6 496.7L883.6 496.5L886.6 496.3L889.6 496.2L892.5 496.0L895.5 495.9L898.5 495.8L901.5 495.6L904.5 495.5L907.5 495.4L910.5 495.3L913.5 495.2L916.5 495.1L919.5 495.0L922.5 495.0L925.5 494.9L928.5 494.8L931.5 494.8L934.5 494.7L937.5 494.7L940.5 494.7L943.5 494.6L946.5 494.6L949.6 494.6L952.6 494.6L955.6 494.5L958.6 494.5L961.6 494.5L964.6 494.5L967.6 494.5L970.6 494.5L973.6 494.5L976.6 494.6L979.6 494.6L982.7 494.6L985.7 494.6L988.7 494.6L991.7 494.7L994.7 494.7L997.7 494.7L1000.7 494.7L1003.7 494.8L1006.8 494.8L1009.8 494.8L1012.8 494.8L1015.8 494.9L1018.8 494.9L1021.8 494.9L1024.8 495.0L1027.8 495.0L1030.8 495.0L1033.9 495.0L1036.9 495.1L1039.9 495.1L1042.9 495.1L1045.9 495.1L1048.9 495.1L1051.9 495.1L1054.9 495.1L1057.9 495.1L1061.0 495.1L1064.0 495.1L1067.0 495.1L1070.0 495.1L1073.0 495.1L1076.0 495.1L1079.0 495.0L1082.0 495.0L1085.0 495.0L1088.0 494.9L1091.0 494.9L1094.0 494.8L1097.0 494.7L1100.0 494.7L1103.0 494.6L1106.0 494.5L1109.0 494.4L1112.0 494.3L1115.0 494.2L1118.0 494.1L1121.0 494.0" fill="none" stroke="#008000" stroke-width="4.5" stroke-linejoin="round"/>
<path d="M204.0 1055.0L206.0 1057.1L208.0 1059.3L209.9 1061.5L211.9 1063.7L213.7 1066.0L215.6 1068.3L217.4 1070.7L219.2 1073.1L221.0 1075.5L222.7 1077.9L224.5 1080.4L226.2 1082.9L227.9 1085.5L229.5 1088.0L231.2 1090.6L232.9 1093.2L234.5 1095.8L236.1 1098.4L237.8 1101.0L239.4 1103.6L241.0 1106.2L242.7 1108.9L244.3 1111.5L245.9 1114.1L247.6 1116.7L249.2 1119.3L250.9 1121.9L252.5 1124.5L254.2 1127.1L255.9 1129.7L257.6 1132.2L259.4 1134.7L261.1 1137.2L262.9 1139.6L264.7 1142.1L266.5 1144.5L268.4 1146.9L270.3 1149.2L272.2 1151.5L274.1 1153.7L276.1 1155.9L278.1 1158.1L280.2 1160.2L282.3 1162.3L284.5 1164.3L286.6 1166.3L288.9 1168.2L291.1 1170.1L293.4 1171.9L295.7 1173.7L298.1 1175.4L300.5 1177.1L302.9 1178.8L305.4 1180.4L307.9 1182.0L310.4 1183.5L313.0 1185.0L315.5 1186.5L318.1 1187.9L320.8 1189.3L323.4 1190.6L326.1 1191.9L328.8 1193.2L331.5 1194.5L334.2 1195.7L337.0 1196.9L339.7 1198.0L342.5 1199.2L345.3 1200.2L348.1 1201.3L351.0 1202.4L353.8 1203.4L356.7 1204.4L359.5 1205.3L362.4 1206.3L365.3 1207.2L368.2 1208.1L371.1 1209.0L374.0 1209.8L376.9 1210.7L379.8 1211.5L382.7 1212.4L385.6 1213.2L388.6 1214.0L391.5 1214.8L394.4 1215.6L397.3 1216.5L400.2 1217.3L403.2 1218.1L406.1 1218.9L409.0 1219.8L411.9 1220.6L414.8 1221.5L417.7 1222.3L420.6 1223.2L423.4 1224.1L426.3 1224.9L429.2 1225.8L432.1 1226.7L435.0 1227.5L437.8 1228.3L440.7 1229.2L443.6 1230.0L446.5 1230.8L449.4 1231.5L452.3 1232.3L455.2 1233.0L458.1 1233.7L461.0 1234.3L463.9 1234.9L466.9 1235.5L469.8 1236.0L472.8 1236.6L475.7 1237.0L478.7 1237.5L481.6 1237.9L484.6 1238.3L487.6 1238.6L490.6 1239.0L493.6 1239.3L496.6 1239.6L499.6 1239.8L502.6 1240.1L505.6 1240.3L508.6 1240.5L511.6 1240.7L514.6 1240.9L517.7 1241.1L520.7 1241.2L523.7 1241.4L526.8 1241.5L529.8 1241.7L532.8 1241.8L535.9 1241.9L538.9 1242.0L541.9 1242.2L545.0 1242.3L548.0 1242.4L551.0 1242.5L554.1 1242.7L557.1 1242.8L560.1 1242.9L563.1 1243.1L566.2 1243.3L569.2 1243.4L572.2 1243.6L575.2 1243.8L578.2 1244.1L581.2 1244.3L584.2 1244.6L587.2 1244.8L590.2 1245.1L593.2 1245.5L596.2 1245.8L599.2 1246.2L602.1 1246.6L605.1 1247.0L608.1 1247.5L611.0 1248.0L613.9 1248.5L616.9 1249.0L619.8 1249.6L622.7 1250.2L625.7 1250.8L628.6 1251.4L631.5 1252.1L634.4 1252.8L637.3 1253.5L640.1 1254.2L643.0 1255.0L645.9 1255.8L648.8 1256.6L651.6 1257.4L654.5 1258.3L657.3 1259.1L660.2 1260.0L663.0 1261.0L665.8 1261.9L668.6 1262.9L671.5 1263.9L674.3 1264.9L677.1 1265.9L679.9 1267.0L682.6 1268.0L685.4 1269.1L688.2 1270.3L691.0 1271.4L693.7 1272.5L696.5 1273.7L699.2 1274.9L702.0 1276.1L704.7 1277.4L707.4 1278.6L710.2 1279.9L712.9 1281.1L715.6 1282.4L718.3 1283.8L721.0 1285.1L723.7 1286.5L726.4 1287.8L729.0 1289.2L731.7 1290.6L734.4 1292.0L737.0 1293.5L739.7 1294.9L742.3 1296.4L745.0 1297.8L747.6 1299.3L750.2 1300.8L752.8 1302.3L755.5 1303.8L758.1 1305.4L760.7 1306.9L763.3 1308.4L765.9 1309.9L768.5 1311.5L771.1 1313.0L773.8 1314.6L776.4 1316.1L779.0 1317.6L781.6 1319.2L784.2 1320.7L786.8 1322.3L789.4 1323.8L792.0 1325.3L794.6 1326.8L797.3 1328.3L799.9 1329.8L802.5 1331.3L805.2 1332.8L807.8 1334.2L810.5 1335.7L813.1 1337.1L815.8 1338.5L818.4 1339.9L821.1 1341.3L823.8 1342.7L826.5 1344.0L829.2 1345.4L831.9 1346.7L834.6 1347.9L837.3 1349.2L840.1 1350.4L842.8 1351.6L845.6 1352.8L848.3 1354.0L851.1 1355.1L853.9 1356.2L856.7 1357.3L859.5 1358.4L862.3 1359.5L865.1 1360.5L867.9 1361.5L870.8 1362.5L873.6 1363.4L876.5 1364.4L879.3 1365.3L882.2 1366.2L885.1 1367.0L887.9 1367.9L890.8 1368.7L893.7 1369.5L896.6 1370.3L899.5 1371.1L902.4 1371.8L905.4 1372.5L908.3 1373.2L911.2 1373.9L914.1 1374.6L917.1 1375.2L920.0 1375.9L923.0 1376.5L925.9 1377.1L928.9 1377.7L931.9 1378.2L934.8 1378.7L937.8 1379.3L940.8 1379.8L943.7 1380.2L946.7 1380.7L949.7 1381.1L952.7 1381.6L955.7 1382.0L958.7 1382.4L961.7 1382.8L964.7 1383.1L967.7 1383.5L970.7 1383.8L973.7 1384.1L976.7 1384.4L979.7 1384.7L982.7 1385.0L985.7 1385.2L988.7 1385.5L991.7 1385.7L994.7 1385.9L997.8 1386.1L1000.8 1386.3L1003.8 1386.4L1006.8 1386.6L1009.8 1386.7L1012.8 1386.8L1015.8 1386.9L1018.8 1387.0L1021.8 1387.1L1024.8 1387.2L1027.8 1387.2L1030.9 1387.3L1033.9 1387.3L1036.9 1387.3L1039.8 1387.3L1042.8 1387.4L1045.8 1387.3L1048.8 1387.3L1051.8 1387.3L1054.8 1387.3L1057.8 1387.3L1060.8 1387.2L1063.8 1387.2L1066.8 1387.2L1069.8 1387.1L1072.8 1387.1L1075.8 1387.1L1078.8 1387.1L1081.8 1387.1L1084.8 1387.0L1087.8 1387.0L1090.8 1387.1L1093.8 1387.1L1096.8 1387.1L1099.8 1387.1L1102.8 1387.2L1105.9 1387.2L1108.9 1387.3L1111.9 1387.4L1114.9 1387.5L1118.0 1387.7L1121.0 1387.8" fill="none" stroke="#008000" stroke-width="4.5" stroke-linejoin="round"/>
<path d="M204.0 424.0L204.4 427.0L204.8 430.0L205.2 433.0L205.5 436.0L205.9 439.1L206.3 442.1L206.7 445.1L207.1 448.1L207.5 451.1L207.9 454.0L208.3 457.0L208.7 460.0L209.1 463.0L209.6 466.0L210.0 469.0L210.4 472.0L210.8 474.9L211.2 477.9L211.6 480.9L212.1 483.8L212.5 486.8L212.9 489.8L213.4 492.7L213.8 495.7L214.3 498.7L214.7 501.6L215.2 504.6L215.6 507.5L216.1 510.5L216.5 513.4L217.0 516.4L217.5 519.3L218.0 522.3L218.5 525.2L219.0 528.2L219.4 531.1L220.0 534.1L220.5 537.0L221.0 539.9L221.5 542.9L222.0 545.8L222.5 548.8L223.1 551.7L223.6 554.6L224.2 557.6L224.7 560.5L225.3 563.5L225.9 566.4L226.4 569.3L227.0 572.3L227.6 575.2L228.2 578.1L228.8 581.1L229.4 584.0L230.0 586.9L230.7 589.9L231.3 592.8L232.0 595.7L232.6 598.7L233.3 601.6L233.9 604.6L234.6 607.5L235.3 610.4L236.0 613.4L236.7 616.3L237.4 619.3L238.1 622.2L238.9 625.1L239.6 628.1L240.4 631.0L241.1 634.0L241.9 636.9L242.7 639.9L243.5 642.8L244.3 645.8L245.1 648.7L245.9 651.7L246.7 654.6L247.6 657.6L248.4 660.5L249.3 663.5L250.2 666.5L251.1 669.4L252.0 672.4L252.9 675.3L253.9 678.2L255.0 681.1L256.1 684.0L257.2 686.8L258.5 689.5L259.8 692.2L261.2 694.9L262.8 697.4L264.4 699.9L266.2 702.3L268.1 704.6L270.1 706.9L272.3 708.9L274.6 710.8L276.9 712.6L279.4 714.1L281.9 715.3L284.4 716.3L287.0 717.0L289.6 717.3L292.2 717.3L294.8 716.9L297.3 716.2L299.9 715.3L302.3 714.0L304.7 712.5L307.1 710.8L309.3 708.9L311.5 706.7L313.5 704.5L315.5 702.1L317.3 699.6L319.1 697.0L320.7 694.3L322.4 691.6L323.9 688.9L325.5 686.2L326.9 683.5L328.4 680.8L329.8 678.0L331.2 675.3L332.6 672.5L333.9 669.8L335.2 667.0L336.5 664.2L337.7 661.5L339.0 658.7L340.2 655.9L341.3 653.1L342.5 650.3L343.6 647.5L344.7 644.7L345.7 641.9L346.8 639.1L347.8 636.3L348.8 633.5L349.8 630.7L350.7 627.8L351.7 625.0L352.6 622.2L353.5 619.3L354.4 616.5L355.3 613.7L356.2 610.8L357.0 608.0L357.9 605.1L358.7 602.2L359.5 599.4L360.3 596.5L361.1 593.7L361.9 590.8L362.7 587.9L363.5 585.0L364.3 582.2L365.1 579.3L365.8 576.4L366.6 573.5L367.4 570.6L368.1 567.7L368.9 564.8L369.6 561.9L370.4 559.1L371.2 556.2L371.9 553.3L372.7 550.4L373.5 547.5L374.3 544.6L375.0 541.6L375.8 538.7L376.6 535.8L377.4 532.9L378.1 530.0L378.9 527.1L379.7 524.2L380.5 521.3L381.3 518.4L382.1 515.5L382.9 512.5L383.7 509.6L384.5 506.7L385.2 503.8L386.0 500.9L386.8 498.0L387.6 495.1L388.4 492.1L389.2 489.2L390.1 486.3L390.9 483.4L391.7 480.5L392.5 477.6L393.3 474.7L394.1 471.8L394.9 468.8L395.7 465.9L396.5 463.0L397.4 460.1L398.2 457.2L399.0 454.3L399.8 451.4L400.6 448.5L401.5 445.6L402.3 442.7L403.1 439.8L403.9 436.9L404.8 434.0L405.6 431.1L406.4 428.2L407.2 425.3L408.1 422.4L408.9 419.5L409.7 416.7L410.6 413.8L411.4 410.9L412.3 408.0L413.1 405.2L413.9 402.3L414.8 399.4L415.6 396.5L416.5 393.7L417.3 390.8L418.2 388.0L419.0 385.1L419.9 382.3L420.7 379.4L421.6 376.6L422.5 373.7L423.4 370.9L424.4 368.1L425.3 365.2L426.2 362.4L427.2 359.6L428.2 356.7L429.2 353.9L430.2 351.1L431.3 348.3L432.4 345.5L433.5 342.7L434.6 339.9L435.8 337.1L436.9 334.3L438.1 331.6L439.4 328.8L440.7 326.0L442.0 323.2L443.3 320.5L444.7 317.7L446.1 315.0L447.6 312.2L449.1 309.6L450.7 306.9L452.4 304.4L454.2 301.9L456.0 299.5L458.0 297.2L460.1 295.0L462.3 293.0L464.6 291.1L467.1 289.3L469.6 287.7L472.3 286.3L475.0 285.1L477.8 284.0L480.6 283.2L483.4 282.6L486.3 282.2L489.0 282.1L491.8 282.1L494.5 282.4L497.2 282.9L499.8 283.6L502.4 284.5L504.9 285.6L507.4 286.8L509.9 288.2L512.4 289.7L514.8 291.4L517.2 293.1L519.5 295.0L521.8 297.0L524.1 299.1L526.4 301.3L528.6 303.6L530.7 305.9L532.9 308.2L535.0 310.7L537.1 313.1L539.2 315.5L541.2 318.0L543.2 320.4L545.1 322.9L547.1 325.3L549.0 327.8L550.9 330.2L552.8 332.7L554.6 335.1L556.4 337.5L558.2 340.0L560.0 342.4L561.8 344.8L563.6 347.2L565.3 349.6L567.0 352.1L568.8 354.5L570.5 356.9L572.2 359.3L573.9 361.7L575.6 364.1L577.3 366.5L579.0 368.9L580.7 371.3L582.4 373.7L584.1 376.1L585.8 378.4L587.6 380.8L589.3 383.2L591.0 385.6L592.8 388.0L594.5 390.4L596.3 392.7L598.1 395.1L599.9 397.5L601.7 399.9L603.5 402.2L605.4 404.6L607.3 407.0L609.2 409.3L611.1 411.7L613.0 414.0L615.0 416.3L617.0 418.6L619.0 420.9L621.0 423.2L623.1 425.4L625.2 427.7L627.3 429.9L629.4 432.0L631.6 434.2L633.8 436.3L636.0 438.4L638.2 440.4L640.5 442.4L642.8 444.3L645.1 446.2L647.5 448.1L649.9 449.9L652.3 451.7L654.7 453.4L657.2 455.1L659.7 456.7L662.3 458.3L664.9 459.7L667.5 461.2L670.1 462.5L672.8 463.8L675.5 465.1L678.3 466.3L681.0 467.4L683.8 468.5L686.6 469.5L689.5 470.5L692.3 471.5L695.2 472.4L698.1 473.2L701.0 474.0L703.9 474.8L706.8 475.6L709.7 476.3L712.7 477.0L715.6 477.6L718.6 478.3L721.5 478.9L724.5 479.5L727.4 480.0L730.4 480.6L733.3 481.1L736.3 481.6L739.3 482.1L742.2 482.6L745.2 483.0L748.2 483.4L751.1 483.8L754.1 484.2L757.1 484.6L760.1 484.9L763.0 485.2L766.0 485.6L769.0 485.9L772.0 486.1L775.0 486.4L778.0 486.6L781.0 486.9L784.0 487.1L786.9 487.3L789.9 487.5L792.9 487.6L795.9 487.8L798.9 487.9L801.9 488.1L804.9 488.2L807.9 488.3L810.9 488.4L814.0 488.5L817.0 488.6L820.0 488.6L823.0 488.7L826.0 488.7L829.0 488.8L832.0 488.8L835.0 488.8L838.0 488.8L841.1 488.9L844.1 488.9L847.1 488.8L850.1 488.8L853.1 488.8L856.1 488.8L859.2 488.8L862.2 488.7L865.2 488.7L868.2 488.7L871.2 488.6L874.2 488.6L877.3 488.5L880.3 488.5L883.3 488.5L886.3 488.4L889.3 488.4L892.4 488.3L895.4 488.3L898.4 488.2L901.4 488.2L904.4 488.1L907.4 488.1L910.5 488.0L913.5 488.0L916.5 488.0L919.5 487.9L922.5 487.9L925.5 487.9L928.5 487.9L931.5 487.9L934.6 487.8L937.6 487.8L940.6 487.8L943.6 487.8L946.6 487.9L949.6 487.9L952.6 487.9L955.6 487.9L958.6 487.9L961.6 487.9L964.6 488.0L967.6 488.0L970.6 488.0L973.6 488.1L976.7 488.1L979.7 488.2L982.7 488.2L985.7 488.2L988.7 488.3L991.7 488.3L994.7 488.4L997.7 488.4L1000.7 488.5L1003.7 488.5L1006.7 488.6L1009.7 488.6L1012.7 488.7L1015.7 488.7L1018.7 488.8L1021.7 488.8L1024.7 488.9L1027.7 488.9L1030.7 489.0L1033.7 489.0L1036.7 489.1L1039.7 489.1L1042.7 489.2L1045.7 489.2L1048.7 489.3L1051.7 489.3L1054.7 489.3L1057.7 489.4L1060.7 489.4L1063.7 489.5L1066.8 489.5L1069.8 489.5L1072.8 489.5L1075.8 489.6L1078.8 489.6L1081.8 489.6L1084.8 489.6L1087.8 489.6L1090.8 489.6L1093.8 489.6L1096.9 489.6L1099.9 489.6L1102.9 489.6L1105.9 489.6L1108.9 489.5L1111.9 489.5L1115.0 489.5L1118.0 489.4L1121.0 489.4" fill="none" stroke="#000080" stroke-width="4.5" stroke-linejoin="round"/>
<path d="M204.0 1176.0L206.3 1177.9L208.6 1179.9L210.9 1181.8L213.2 1183.8L215.5 1185.8L217.8 1187.8L220.1 1189.8L222.4 1191.7L224.8 1193.7L227.1 1195.7L229.4 1197.7L231.7 1199.6L234.1 1201.5L236.4 1203.5L238.8 1205.4L241.2 1207.3L243.6 1209.1L246.0 1210.9L248.4 1212.7L250.8 1214.5L253.2 1216.2L255.7 1217.9L258.2 1219.6L260.6 1221.2L263.2 1222.8L265.7 1224.3L268.2 1225.8L270.8 1227.3L273.4 1228.6L276.0 1230.0L278.6 1231.2L281.3 1232.4L284.0 1233.6L286.7 1234.7L289.4 1235.7L292.2 1236.6L295.0 1237.5L297.8 1238.3L300.7 1239.0L303.5 1239.7L306.4 1240.4L309.3 1241.0L312.2 1241.5L315.2 1242.1L318.1 1242.5L321.1 1243.0L324.0 1243.5L327.0 1243.9L330.0 1244.3L333.0 1244.7L336.0 1245.1L339.0 1245.5L342.0 1245.9L345.0 1246.4L348.0 1246.8L351.0 1247.2L354.0 1247.6L357.0 1248.0L360.0 1248.5L363.0 1248.9L366.0 1249.4L369.0 1249.8L372.0 1250.3L375.0 1250.7L377.9 1251.2L380.9 1251.7L383.9 1252.2L386.9 1252.7L389.9 1253.2L392.8 1253.7L395.8 1254.3L398.8 1254.8L401.7 1255.4L404.7 1255.9L407.6 1256.4L410.6 1257.0L413.6 1257.6L416.5 1258.1L419.5 1258.7L422.4 1259.2L425.4 1259.8L428.3 1260.4L431.3 1260.9L434.2 1261.5L437.2 1262.1L440.1 1262.6L443.1 1263.2L446.0 1263.7L449.0 1264.3L452.0 1264.8L454.9 1265.4L457.9 1265.9L460.8 1266.4L463.8 1266.9L466.8 1267.4L469.7 1267.9L472.7 1268.4L475.7 1268.9L478.7 1269.4L481.6 1269.8L484.6 1270.3L487.6 1270.7L490.6 1271.1L493.6 1271.5L496.6 1271.9L499.6 1272.3L502.6 1272.7L505.6 1273.0L508.6 1273.4L511.6 1273.8L514.7 1274.1L517.7 1274.5L520.7 1274.9L523.6 1275.3L526.6 1275.8L529.6 1276.3L532.6 1276.8L535.5 1277.3L538.4 1277.9L541.4 1278.5L544.3 1279.2L547.2 1279.9L550.0 1280.7L552.9 1281.5L555.8 1282.3L558.6 1283.2L561.4 1284.1L564.2 1285.1L567.0 1286.1L569.8 1287.1L572.6 1288.2L575.4 1289.3L578.1 1290.4L580.9 1291.5L583.6 1292.7L586.4 1293.9L589.1 1295.1L591.9 1296.3L594.6 1297.6L597.3 1298.9L600.0 1300.2L602.7 1301.5L605.4 1302.8L608.1 1304.2L610.8 1305.5L613.5 1306.9L616.2 1308.2L618.9 1309.6L621.6 1311.0L624.2 1312.4L626.9 1313.8L629.6 1315.2L632.3 1316.6L635.0 1318.1L637.6 1319.5L640.3 1320.9L643.0 1322.3L645.7 1323.7L648.4 1325.2L651.0 1326.6L653.7 1328.0L656.4 1329.4L659.1 1330.8L661.8 1332.2L664.5 1333.6L667.2 1334.9L669.9 1336.3L672.6 1337.7L675.3 1339.0L678.0 1340.3L680.7 1341.6L683.4 1342.9L686.2 1344.2L688.9 1345.5L691.6 1346.7L694.4 1348.0L697.1 1349.2L699.9 1350.3L702.6 1351.5L705.4 1352.6L708.2 1353.7L711.0 1354.8L713.8 1355.9L716.6 1356.9L719.4 1357.9L722.2 1358.9L725.0 1359.8L727.9 1360.7L730.7 1361.6L733.6 1362.5L736.5 1363.3L739.4 1364.0L742.3 1364.8L745.2 1365.5L748.1 1366.2L751.0 1366.8L753.9 1367.4L756.9 1368.0L759.8 1368.5L762.8 1369.1L765.7 1369.6L768.7 1370.1L771.7 1370.5L774.7 1371.0L777.6 1371.4L780.6 1371.8L783.6 1372.1L786.6 1372.5L789.7 1372.8L792.7 1373.1L795.7 1373.4L798.7 1373.7L801.7 1374.0L804.7 1374.2L807.8 1374.5L810.8 1374.7L813.8 1375.0L816.9 1375.2L819.9 1375.4L822.9 1375.6L826.0 1375.8L829.0 1376.0L832.0 1376.1L835.1 1376.3L838.1 1376.5L841.1 1376.7L844.2 1376.9L847.2 1377.0L850.2 1377.2L853.2 1377.4L856.3 1377.5L859.3 1377.7L862.3 1377.9L865.3 1378.0L868.3 1378.2L871.3 1378.3L874.4 1378.5L877.4 1378.6L880.4 1378.8L883.4 1378.9L886.4 1379.1L889.4 1379.2L892.4 1379.4L895.4 1379.5L898.4 1379.6L901.5 1379.8L904.5 1379.9L907.5 1380.0L910.5 1380.2L913.5 1380.3L916.5 1380.4L919.5 1380.5L922.5 1380.7L925.5 1380.8L928.5 1380.9L931.5 1381.0L934.5 1381.1L937.5 1381.2L940.5 1381.3L943.5 1381.4L946.5 1381.5L949.5 1381.6L952.5 1381.7L955.5 1381.8L958.5 1381.9L961.5 1382.0L964.5 1382.1L967.5 1382.2L970.5 1382.3L973.5 1382.4L976.5 1382.4L979.5 1382.5L982.5 1382.6L985.5 1382.7L988.5 1382.7L991.5 1382.8L994.4 1382.9L997.4 1382.9L1000.4 1383.0L1003.4 1383.0L1006.4 1383.1L1009.4 1383.2L1012.4 1383.2L1015.4 1383.3L1018.4 1383.3L1021.4 1383.3L1024.5 1383.4L1027.5 1383.4L1030.5 1383.5L1033.5 1383.5L1036.5 1383.5L1039.5 1383.6L1042.5 1383.6L1045.5 1383.6L1048.5 1383.6L1051.5 1383.6L1054.5 1383.7L1057.5 1383.7L1060.5 1383.7L1063.5 1383.7L1066.6 1383.7L1069.6 1383.7L1072.6 1383.7L1075.6 1383.7L1078.6 1383.7L1081.6 1383.7L1084.7 1383.7L1087.7 1383.7L1090.7 1383.7L1093.7 1383.7L1096.8 1383.6L1099.8 1383.6L1102.8 1383.6L1105.8 1383.6L1108.9 1383.5L1111.9 1383.5L1114.9 1383.5L1118.0 1383.4L1121.0 1383.4" fill="none" stroke="#000080" stroke-width="4.5" stroke-linejoin="round"/>
<g style="filter:grayscale(1)"><g transform="translate(90.0 850.0) rotate(-90)"><text x="0.2" y="2.0" font-family='"Liberation Serif", serif' font-size="68">[</text><text x="26.4" y="0.0" font-family='"Liberation Serif", serif' font-size="68" font-style="italic">θ</text><text x="57.5" y="2.0" font-family='"Liberation Serif", serif' font-size="68">]</text><path d="M86.0 -31.2 L111.8 -2.4 M86.0 -2.4 L111.8 -31.2" stroke="#000" stroke-width="2.0" fill="none"/><path d="M125.0 -36.0 L149.0 -11.0 M125.0 -11.0 L149.0 -36.0" stroke="#000" stroke-width="6.5" fill="none"/><text x="157.7" y="0.0" font-family='"Liberation Serif", serif' font-size="68">1</text><text x="189.2" y="0.0" font-family='"Liberation Serif", serif' font-size="68">0</text><text x="222.2" y="-30.0" font-family='"Liberation Serif", serif' font-size="40">−</text><text x="245.4" y="-33.0" font-family='"Liberation Serif", serif' font-size="40">3</text><text x="266.3" y="0.0" font-family='"Liberation Serif", serif' font-size="68">(</text><text x="287.5" y="0.0" font-family='"Liberation Sans", sans-serif' font-size="68">deg cm</text><text x="507.3" y="-33.0" font-family='"Liberation Sans", sans-serif' font-size="40">2</text><text x="548.3" y="0.0" font-family='"Liberation Sans", sans-serif' font-size="68">dmol</text><text x="694.6" y="-33.0" font-family='"Liberation Sans", sans-serif' font-size="40">-</text><path d="M719.80 -33.00L723.49 -33.00L723.49 -61.63L721.42 -61.63C720.64 -60.15 719.27 -58.59 717.71 -57.22C716.15 -55.85 714.19 -54.68 712.44 -54.09L712.44 -51.44C713.61 -51.85 715.17 -52.63 716.73 -53.55C718.10 -54.35 719.17 -55.07 719.80 -55.66Z" fill="#000"/><text x="729.1" y="0.0" font-family='"Liberation Serif", serif' font-size="68">)</text></g></g>
<g style="filter:grayscale(1)"><g transform="translate(1271.0 1425.0) rotate(-90)"><text x="3.0" y="0.0" font-family='"Liberation Serif", serif' font-size="68" font-style="italic">ε</text><path d="M52.0 -31.0 L79.0 -2.2 M52.0 -2.2 L79.0 -31.0" stroke="#000" stroke-width="2.0" fill="none"/><path d="M92.1 -35.7 L115.1 -11.4 M92.1 -11.4 L115.1 -35.7" stroke="#000" stroke-width="6.5" fill="none"/><text x="124.8" y="0.0" font-family='"Liberation Serif", serif' font-size="68">1</text><text x="155.4" y="0.0" font-family='"Liberation Serif", serif' font-size="68">0</text><text x="189.3" y="-30.0" font-family='"Liberation Serif", serif' font-size="40">−</text><text x="211.3" y="-33.0" font-family='"Liberation Serif", serif' font-size="40">3</text><text x="232.0" y="0.0" font-family='"Liberation Serif", serif' font-size="68">(</text><text x="254.7" y="0.0" font-family='"Liberation Sans", sans-serif' font-size="68">cm</text><text x="343.6" y="-33.0" font-family='"Liberation Sans", sans-serif' font-size="40">-</text><path d="M368.80 -33.00L372.49 -33.00L372.49 -61.63L370.42 -61.63C369.64 -60.15 368.27 -58.59 366.71 -57.22C365.15 -55.85 363.19 -54.68 361.44 -54.09L361.44 -51.44C362.61 -51.85 364.17 -52.63 365.73 -53.55C367.10 -54.35 368.17 -55.07 368.80 -55.66Z" fill="#000"/><text x="378.4" y="0.0" font-family='"Liberation Sans", sans-serif' font-size="68">M</text><text x="435.7" y="-33.0" font-family='"Liberation Sans", sans-serif' font-size="40">-</text><path d="M460.90 -33.00L464.59 -33.00L464.59 -61.63L462.52 -61.63C461.74 -60.15 460.37 -58.59 458.81 -57.22C457.25 -55.85 455.29 -54.68 453.54 -54.09L453.54 -51.44C454.71 -51.85 456.27 -52.63 457.83 -53.55C459.20 -54.35 460.27 -55.07 460.90 -55.66Z" fill="#000"/><text x="468.8" y="0.0" font-family='"Liberation Serif", serif' font-size="68">)</text></g></g>
</svg></body></html>
